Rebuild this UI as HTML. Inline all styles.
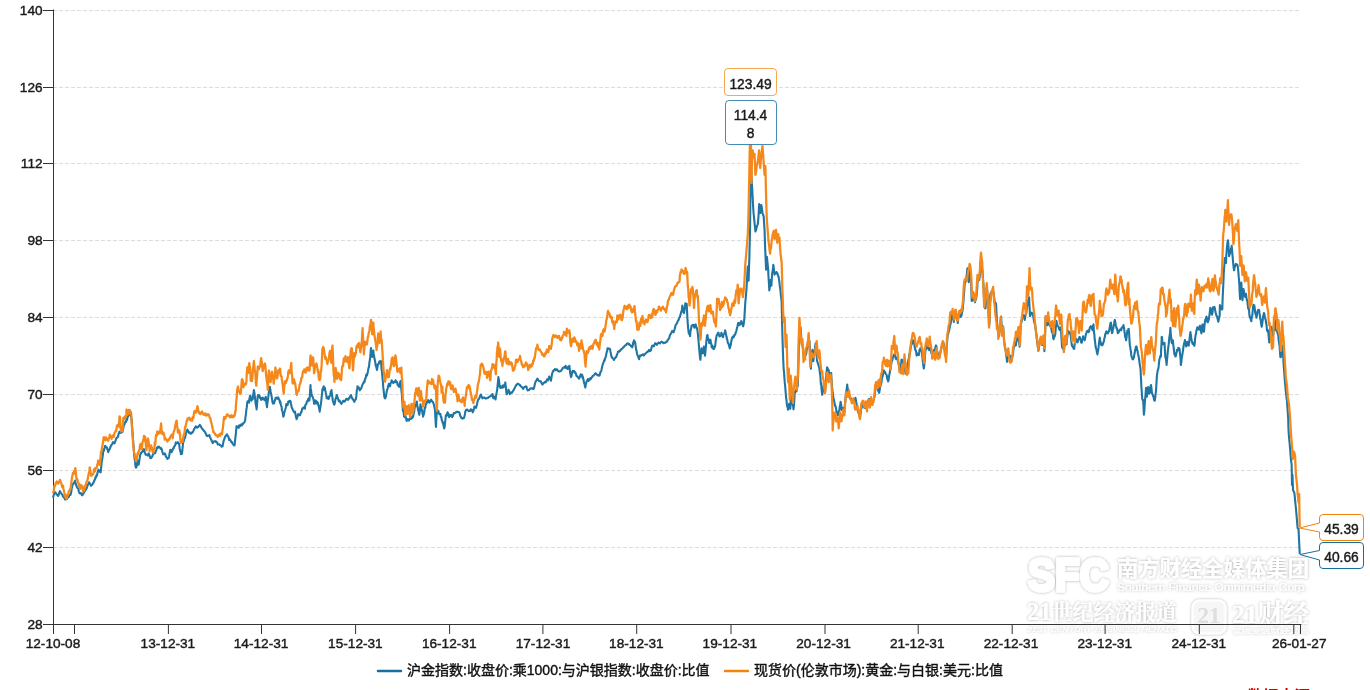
<!DOCTYPE html>
<html lang="zh"><head><meta charset="utf-8"><title>chart</title><style>html,body{margin:0;padding:0;background:#fff;overflow:hidden}</style></head><body>
<svg width="1370" height="690" viewBox="0 0 1370 690" style="display:block;font-family:'Liberation Sans', 'Noto Sans CJK SC', sans-serif">
<defs><filter id="glow" x="-10%" y="-30%" width="120%" height="160%"><feGaussianBlur in="SourceAlpha" stdDeviation="1.6" result="bl"/><feFlood flood-color="#000" flood-opacity="0.33"/><feComposite in2="bl" operator="in" result="sh"/><feMerge><feMergeNode in="sh"/><feMergeNode in="SourceGraphic"/></feMerge></filter></defs>
<rect width="1370" height="690" fill="#fff"/>
<line x1="53.0" x2="1300.0" y1="10.50" y2="10.50" stroke="#dcdcdc" stroke-width="1" stroke-dasharray="4 2"/>
<line x1="53.0" x2="1300.0" y1="87.50" y2="87.50" stroke="#dcdcdc" stroke-width="1" stroke-dasharray="4 2"/>
<line x1="53.0" x2="1300.0" y1="163.50" y2="163.50" stroke="#dcdcdc" stroke-width="1" stroke-dasharray="4 2"/>
<line x1="53.0" x2="1300.0" y1="240.50" y2="240.50" stroke="#dcdcdc" stroke-width="1" stroke-dasharray="4 2"/>
<line x1="53.0" x2="1300.0" y1="317.50" y2="317.50" stroke="#dcdcdc" stroke-width="1" stroke-dasharray="4 2"/>
<line x1="53.0" x2="1300.0" y1="394.50" y2="394.50" stroke="#dcdcdc" stroke-width="1" stroke-dasharray="4 2"/>
<line x1="53.0" x2="1300.0" y1="470.50" y2="470.50" stroke="#dcdcdc" stroke-width="1" stroke-dasharray="4 2"/>
<line x1="53.0" x2="1300.0" y1="547.50" y2="547.50" stroke="#dcdcdc" stroke-width="1" stroke-dasharray="4 2"/>
<g filter="url(#glow)" fill="#fff">
<text x="1028" y="591" font-size="46" font-weight="bold" textLength="81" lengthAdjust="spacingAndGlyphs" stroke="#fff" stroke-width="3.5" stroke-linejoin="round">SFC</text>
<text x="1117" y="576" font-size="21.3" font-weight="bold" textLength="192" lengthAdjust="spacingAndGlyphs">南方财经全媒体集团</text>
<text x="1117" y="591" font-size="11.5" textLength="191" lengthAdjust="spacingAndGlyphs">Southern Finance Omnimedia Corp.</text>
<text x="1027" y="620" font-size="22" font-weight="bold" font-family="'Liberation Serif', 'Noto Serif CJK SC', serif" textLength="150" lengthAdjust="spacingAndGlyphs"><tspan font-size="26">21</tspan>世纪经济报道</text>
<text x="1027" y="632" font-size="7.5" font-style="italic" textLength="150" lengthAdjust="spacingAndGlyphs">21ST CENTURY BUSINESS HERALD</text>
<rect x="1192.5" y="600.5" width="33" height="33" rx="7" ry="7" fill="#f6f6f6" stroke="#fff" stroke-width="2"/>
<text x="1209" y="623" font-size="23" font-weight="bold" text-anchor="middle" fill="#dedede" font-family="'Liberation Serif', serif">21</text>
<text x="1232" y="623" font-size="26" font-weight="bold" font-family="'Liberation Serif', 'Noto Serif CJK SC', serif" textLength="77" lengthAdjust="spacingAndGlyphs">21财经</text>
<text x="1232" y="633" font-size="6" textLength="77" lengthAdjust="spacingAndGlyphs">掌握金融财经动态</text>
</g>
<g stroke="#333" stroke-width="1" fill="none">
<line x1="53.5" x2="53.5" y1="9.5" y2="625.0"/>
<line x1="53.0" x2="1301.3" y1="624.5" y2="624.5"/>
<line x1="43.0" x2="53.5" y1="10.50" y2="10.50"/>
<line x1="43.0" x2="53.5" y1="87.50" y2="87.50"/>
<line x1="43.0" x2="53.5" y1="163.50" y2="163.50"/>
<line x1="43.0" x2="53.5" y1="240.50" y2="240.50"/>
<line x1="43.0" x2="53.5" y1="317.50" y2="317.50"/>
<line x1="43.0" x2="53.5" y1="394.50" y2="394.50"/>
<line x1="43.0" x2="53.5" y1="470.50" y2="470.50"/>
<line x1="43.0" x2="53.5" y1="547.50" y2="547.50"/>
<line x1="43.0" x2="53.5" y1="624.50" y2="624.50"/>
<line x1="53.5" x2="53.5" y1="624.5" y2="634.0"/>
<line x1="74.5" x2="74.5" y1="624.5" y2="634.0"/>
<line x1="168.4" x2="168.4" y1="624.5" y2="634.0"/>
<line x1="261.5" x2="261.5" y1="624.5" y2="634.0"/>
<line x1="355.6" x2="355.6" y1="624.5" y2="634.0"/>
<line x1="449.6" x2="449.6" y1="624.5" y2="634.0"/>
<line x1="542.9" x2="542.9" y1="624.5" y2="634.0"/>
<line x1="636.7" x2="636.7" y1="624.5" y2="634.0"/>
<line x1="731" x2="731" y1="624.5" y2="634.0"/>
<line x1="825" x2="825" y1="624.5" y2="634.0"/>
<line x1="918.2" x2="918.2" y1="624.5" y2="634.0"/>
<line x1="1012.2" x2="1012.2" y1="624.5" y2="634.0"/>
<line x1="1105.1" x2="1105.1" y1="624.5" y2="634.0"/>
<line x1="1199.3" x2="1199.3" y1="624.5" y2="634.0"/>
<line x1="1293.8" x2="1293.8" y1="624.5" y2="634.0"/>
<line x1="1300.5" x2="1300.5" y1="624.5" y2="634.0"/>
</g>
<g font-size="13.65" fill="#1a1a1a" stroke="#1a1a1a" stroke-width="0.42" style="opacity:0.999">
<text x="42.6" y="14.70" text-anchor="end">140</text>
<text x="42.6" y="91.70" text-anchor="end">126</text>
<text x="42.6" y="167.70" text-anchor="end">112</text>
<text x="42.6" y="244.70" text-anchor="end">98</text>
<text x="42.6" y="321.70" text-anchor="end">84</text>
<text x="42.6" y="398.70" text-anchor="end">70</text>
<text x="42.6" y="474.70" text-anchor="end">56</text>
<text x="42.6" y="551.70" text-anchor="end">42</text>
<text x="42.6" y="628.70" text-anchor="end">28</text>
<text x="53.0" y="647.7" text-anchor="middle">12-10-08</text>
<text x="167.9" y="647.7" text-anchor="middle">13-12-31</text>
<text x="261.1" y="647.7" text-anchor="middle">14-12-31</text>
<text x="355.4" y="647.7" text-anchor="middle">15-12-31</text>
<text x="449.2" y="647.7" text-anchor="middle">16-12-31</text>
<text x="543.0" y="647.7" text-anchor="middle">17-12-31</text>
<text x="636.4" y="647.7" text-anchor="middle">18-12-31</text>
<text x="729.9" y="647.7" text-anchor="middle">19-12-31</text>
<text x="823.6" y="647.7" text-anchor="middle">20-12-31</text>
<text x="917.2" y="647.7" text-anchor="middle">21-12-31</text>
<text x="1011.0" y="647.7" text-anchor="middle">22-12-31</text>
<text x="1104.7" y="647.7" text-anchor="middle">23-12-31</text>
<text x="1198.8" y="647.7" text-anchor="middle">24-12-31</text>
<text x="1299.2" y="647.7" text-anchor="middle">26-01-27</text>
</g>
<path d="M53.2,496.9 53.6,495.5 54.0,494.4 54.4,492.5 54.9,493.1 55.1,492.7 55.3,492.3 55.7,493.2 56.1,493.7 56.5,494.0 56.7,494.7 57.0,494.6 57.4,494.9 57.8,495.2 58.2,496.0 58.6,494.9 59.1,493.8 59.5,492.2 59.9,491.2 60.3,491.6 60.7,492.7 61.2,493.3 61.5,493.7 62.0,494.5 62.4,494.7 62.8,495.8 63.1,496.7 63.3,495.9 63.7,496.3 64.1,497.0 64.5,498.4 64.9,499.0 65.1,499.5 65.4,499.5 65.8,499.3 66.2,499.3 66.6,499.1 67.0,499.0 67.5,497.9 67.9,497.4 68.3,497.1 68.7,497.1 69.1,495.9 69.6,495.1 70.0,494.8 70.4,495.0 70.7,494.4 71.2,492.0 71.7,488.5 72.1,487.1 72.3,486.2 72.5,484.7 72.9,484.3 73.3,484.1 73.8,482.9 73.9,482.9 74.2,483.2 74.6,481.9 75.0,480.9 75.2,480.5 75.4,482.2 75.9,483.8 76.3,485.5 76.7,486.4 77.1,487.5 77.5,487.8 77.9,488.2 78.4,489.0 78.8,491.3 79.2,492.3 79.5,493.3 79.6,493.0 80.1,492.8 80.5,493.4 80.9,493.5 81.1,493.3 81.3,493.7 81.7,494.8 82.2,495.1 82.4,495.3 82.6,494.7 83.0,493.9 83.4,493.6 83.8,492.7 84.3,491.8 84.7,491.2 85.1,490.3 85.5,489.9 85.9,489.5 86.4,488.3 86.7,488.4 86.8,487.6 87.2,486.7 87.6,485.5 88.0,484.6 88.5,483.8 88.9,482.7 89.0,482.2 89.3,482.6 89.7,483.3 90.1,483.8 90.6,484.8 91.0,485.7 91.4,485.4 91.8,484.9 92.2,484.9 92.7,483.9 93.0,483.1 93.5,482.9 93.9,481.2 94.3,480.8 94.8,479.5 95.2,479.0 95.4,477.4 95.6,478.2 96.0,477.0 96.4,475.2 96.9,475.7 97.0,475.2 97.3,473.8 97.7,471.9 98.1,471.0 98.5,469.7 99.0,470.7 99.4,471.6 99.8,471.2 100.2,471.6 100.6,472.3 101.1,467.9 101.5,464.1 101.8,461.5 102.3,458.5 102.7,456.2 103.2,451.7 103.4,450.8 103.6,449.8 104.0,450.5 104.4,448.3 104.8,447.3 105.0,446.0 105.3,445.9 105.7,446.9 106.1,446.9 106.5,447.5 106.9,447.6 107.4,449.5 107.8,450.0 108.2,452.1 108.6,450.7 109.0,450.4 109.5,449.0 109.8,449.0 109.9,448.4 110.3,447.3 110.7,446.5 111.1,445.4 111.4,445.0 111.6,444.9 112.0,444.3 112.4,443.4 112.8,442.3 112.9,442.2 113.2,442.6 113.7,442.4 114.1,443.2 114.5,443.4 114.9,442.1 115.3,441.2 115.8,440.0 116.1,438.7 116.6,437.9 117.0,437.7 117.4,437.4 117.7,436.7 117.9,436.9 118.3,435.6 118.7,433.5 119.1,432.7 119.3,431.8 119.5,432.6 120.0,432.9 120.4,432.5 120.8,432.6 121.2,432.7 121.6,432.2 122.1,432.3 122.5,431.8 122.9,429.8 123.3,428.3 123.7,425.9 124.1,425.0 124.6,424.2 125.0,422.8 125.4,421.4 125.7,421.3 125.8,422.1 126.3,420.7 126.7,418.7 127.1,419.9 127.3,417.5 127.5,418.0 127.9,416.4 128.4,416.1 128.8,413.7 129.2,414.8 129.6,414.4 130.0,412.6 130.5,412.0 130.9,415.0 131.3,418.4 131.6,419.0 131.7,420.8 132.1,426.8 132.6,433.8 132.9,438.3 133.4,444.8 133.8,449.1 134.1,454.5 134.7,459.6 135.1,461.1 135.3,464.9 135.5,466.1 135.9,467.7 136.1,467.3 136.3,467.4 136.8,465.5 137.2,462.2 137.3,460.2 137.6,462.4 138.0,461.9 138.4,461.9 138.6,464.7 138.9,463.7 139.3,460.8 139.6,458.4 139.7,458.3 140.1,455.0 140.5,454.6 140.8,453.4 141.0,453.0 141.4,452.2 141.8,452.3 142.2,451.7 142.4,451.4 142.6,451.5 143.1,450.5 143.5,449.8 143.9,449.1 144.3,450.4 144.7,452.2 145.2,453.2 145.6,454.7 146.0,454.3 146.4,454.6 146.8,454.8 147.2,454.7 147.7,455.5 148.1,455.0 148.5,453.8 148.8,453.3 148.9,454.1 149.4,454.8 149.8,456.7 150.2,457.5 150.4,458.3 150.6,458.0 151.0,457.9 151.5,457.4 151.9,457.1 152.3,456.3 152.7,455.2 153.1,454.1 153.6,453.0 154.0,453.5 154.4,453.4 154.8,452.9 155.2,453.2 155.7,451.3 156.1,450.7 156.5,449.3 156.8,447.8 156.9,448.2 157.3,448.3 157.8,446.9 158.2,447.1 158.6,447.3 159.0,446.6 159.2,446.8 159.4,447.0 159.9,447.7 160.3,447.9 160.7,449.0 161.1,448.1 161.5,448.6 162.0,450.2 162.4,452.0 162.8,453.3 163.1,454.3 163.6,454.0 164.1,454.2 164.5,454.2 164.7,453.4 164.9,453.7 165.3,453.9 165.7,456.0 166.2,457.2 166.6,457.2 167.0,458.1 167.1,458.0 167.4,459.0 167.8,458.6 168.3,458.0 168.7,457.9 169.1,456.2 169.5,454.0 169.9,451.7 170.3,449.9 170.8,450.0 171.2,451.0 171.6,452.2 171.9,450.9 172.0,451.0 172.5,450.4 172.9,449.0 173.3,448.5 173.5,447.7 173.7,448.2 174.1,446.8 174.6,446.0 175.0,445.6 175.4,444.2 175.8,442.4 176.2,442.6 176.7,443.4 177.1,442.9 177.5,442.7 177.9,442.1 178.3,442.9 178.8,443.8 179.1,443.5 179.6,448.2 180.0,449.7 180.4,451.4 180.7,452.3 180.9,454.2 181.3,453.5 181.7,453.9 182.0,453.5 182.1,452.7 182.5,448.7 183.0,443.5 183.4,441.8 183.8,441.2 184.2,438.4 184.6,438.7 185.1,437.5 185.5,435.8 185.9,433.5 186.3,432.4 186.7,430.6 187.2,430.2 187.4,429.6 187.6,430.1 188.0,430.6 188.4,431.5 188.8,432.6 189.3,432.4 189.4,433.2 189.7,432.6 190.1,432.5 190.5,433.3 190.9,433.8 191.4,433.6 191.8,432.6 192.2,432.5 192.6,432.3 193.0,431.7 193.5,430.6 193.9,429.8 194.2,428.9 194.7,428.2 195.1,427.5 195.6,427.2 195.8,426.4 196.0,426.5 196.4,427.0 196.8,427.6 197.2,427.6 197.4,427.5 197.7,427.1 198.1,427.0 198.5,426.5 198.9,426.3 199.3,425.7 199.8,424.9 200.2,425.5 200.6,426.0 201.0,426.6 201.4,427.6 201.9,428.3 202.3,428.4 202.7,429.5 203.1,429.9 203.5,430.1 203.8,430.7 204.0,430.9 204.4,431.4 204.8,431.7 205.2,432.7 205.4,433.1 205.6,433.1 206.1,434.4 206.5,435.4 206.9,436.0 207.3,436.1 207.7,435.9 208.2,435.6 208.6,435.5 209.0,435.8 209.4,435.1 209.8,436.6 210.3,437.7 210.7,438.6 211.0,439.2 211.1,439.3 211.5,440.2 211.9,441.3 212.4,442.3 212.5,442.4 212.8,443.1 213.2,442.2 213.6,441.9 214.0,441.5 214.5,441.2 214.9,441.3 215.3,441.1 215.7,441.6 216.1,441.9 216.5,441.6 217.0,442.7 217.4,443.0 217.8,444.6 218.1,444.3 218.7,444.2 219.1,444.2 219.5,444.5 219.9,445.1 220.3,445.3 220.5,445.3 220.8,445.5 221.2,445.9 221.6,446.7 222.0,445.9 222.4,446.2 222.6,446.2 222.9,444.5 223.3,442.5 223.7,440.5 224.1,439.9 224.5,438.5 225.0,437.0 225.3,436.4 225.8,435.9 226.2,435.2 226.6,435.0 226.9,434.3 227.1,435.0 227.5,435.7 227.9,436.0 228.3,436.3 228.5,437.5 228.7,437.7 229.2,439.9 229.6,438.9 230.0,439.9 230.4,440.1 230.8,441.0 231.3,442.2 231.7,441.8 232.1,442.6 232.5,443.5 232.9,443.9 233.4,444.5 233.8,445.2 234.2,445.5 234.5,445.3 235.0,440.8 235.5,436.8 235.7,435.5 235.9,433.0 236.3,428.8 236.5,426.5 236.7,426.0 237.1,427.6 237.6,427.3 238.0,427.5 238.4,427.6 238.8,427.8 239.2,425.3 239.7,425.3 240.1,426.1 240.4,425.6 240.9,424.7 241.3,424.4 241.8,425.5 242.2,424.0 242.6,424.1 242.8,424.2 243.0,423.2 243.4,423.4 243.9,422.8 244.3,422.3 244.7,421.7 245.1,420.5 245.5,417.0 246.0,413.7 246.4,409.2 246.8,407.2 247.2,402.7 247.6,401.4 248.1,401.1 248.5,400.6 248.9,402.2 249.1,402.7 249.3,399.5 249.7,397.5 249.9,396.1 250.2,395.5 250.6,397.0 251.0,398.6 251.4,400.6 251.8,400.0 252.3,397.9 252.6,399.3 253.1,395.4 253.5,392.8 253.9,390.1 254.4,392.7 254.8,396.3 255.2,399.9 255.6,403.2 256.0,405.5 256.5,408.0 256.6,409.5 256.9,406.1 257.3,401.6 257.7,396.0 257.9,395.7 258.1,395.1 258.6,395.1 259.0,395.4 259.4,395.5 259.8,397.9 260.2,398.1 260.7,397.7 261.1,399.9 261.5,399.2 261.9,399.4 262.3,398.3 262.7,397.7 263.2,398.7 263.6,399.2 264.0,398.9 264.3,399.9 264.4,400.2 264.9,400.3 265.3,398.3 265.7,396.9 265.9,397.2 266.1,399.7 266.5,404.2 267.0,407.2 267.4,403.1 267.8,400.7 268.2,397.7 268.6,393.8 269.1,391.6 269.5,387.9 269.8,386.7 270.3,389.2 270.7,392.0 271.1,394.0 271.6,396.6 272.0,398.8 272.4,401.4 272.8,403.4 273.0,403.6 273.3,402.4 273.7,403.4 274.1,403.2 274.5,400.9 274.9,400.7 275.4,398.5 275.8,397.7 276.2,397.8 276.5,398.4 277.0,397.5 277.5,397.5 277.9,398.9 278.3,397.5 278.6,398.5 278.7,399.1 279.1,399.5 279.6,400.4 280.0,402.7 280.2,401.4 280.4,402.2 280.8,404.3 281.2,405.9 281.7,407.3 281.8,409.6 282.1,410.6 282.5,411.4 282.9,413.8 283.3,416.7 283.8,415.5 284.2,412.8 284.6,411.6 285.0,410.5 285.4,408.8 285.9,407.2 286.3,404.1 286.6,404.9 286.7,404.3 287.1,404.7 287.5,405.2 288.0,403.0 288.2,401.6 288.4,402.6 288.8,402.0 289.2,401.4 289.6,400.8 290.1,401.6 290.2,400.8 290.5,401.3 290.9,403.4 291.3,405.1 291.7,407.6 292.2,408.5 292.6,408.9 293.0,410.5 293.4,410.9 293.8,411.7 294.3,412.4 294.7,411.8 295.0,411.6 295.5,414.3 295.9,416.7 296.4,418.2 296.6,419.2 296.8,418.6 297.2,417.5 297.6,416.5 298.0,414.6 298.2,414.1 298.5,414.5 298.9,414.3 299.3,414.8 299.7,415.3 300.1,415.2 300.6,413.5 301.0,412.1 301.4,412.1 301.7,411.0 302.2,409.0 302.7,408.1 303.1,408.3 303.3,408.0 303.5,407.5 303.9,408.2 304.3,407.1 304.8,407.7 304.9,408.6 305.2,405.7 305.6,404.5 306.0,404.5 306.4,403.7 306.9,401.4 307.3,401.0 307.7,401.3 308.1,399.3 308.5,398.7 309.0,400.0 309.4,400.5 309.8,395.8 310.2,389.5 310.5,385.1 310.6,388.8 311.1,390.4 311.5,393.9 311.9,395.7 312.3,396.6 312.7,396.9 312.9,397.4 313.2,398.6 313.6,399.7 314.0,402.8 314.1,403.8 314.4,403.0 314.8,402.1 315.3,400.4 315.7,402.4 316.1,403.6 316.5,401.4 316.9,402.8 317.4,403.4 317.8,402.4 318.2,405.1 318.4,405.2 318.6,405.9 319.0,407.3 319.5,410.2 319.7,411.6 319.9,409.9 320.3,407.8 320.7,404.9 321.1,402.6 321.6,397.7 322.0,394.0 322.4,389.3 322.8,388.6 323.2,387.9 323.7,386.2 324.1,387.8 324.5,390.3 324.9,387.9 325.1,389.3 325.3,390.4 325.8,392.7 326.2,394.3 326.6,397.5 326.7,398.3 327.0,398.0 327.4,398.5 327.9,398.5 328.3,397.2 328.7,398.9 329.1,397.6 329.5,396.0 329.9,396.1 330.4,394.2 330.8,391.5 331.2,392.4 331.5,390.1 331.6,391.6 332.1,394.8 332.5,398.5 332.8,400.5 333.3,402.3 333.7,403.5 333.9,404.3 334.2,404.7 334.6,404.1 335.0,401.8 335.4,399.1 335.8,398.8 336.3,396.7 336.7,395.1 337.1,395.8 337.5,397.5 337.9,398.5 338.4,400.0 338.8,401.1 339.2,401.5 339.6,400.5 340.0,401.3 340.5,402.6 340.9,402.9 341.3,404.0 341.6,403.4 341.7,402.9 342.1,402.7 342.6,402.1 343.0,401.1 343.1,400.9 343.4,400.7 343.8,400.9 344.2,401.6 344.7,401.3 345.1,401.1 345.5,400.3 345.9,399.5 346.3,398.8 346.8,399.1 347.2,398.8 347.6,399.3 347.9,399.8 348.4,399.5 348.9,398.4 349.3,397.7 349.5,397.5 349.7,397.9 350.1,396.6 350.5,395.8 351.0,396.3 351.1,395.1 351.4,396.6 351.8,397.6 352.2,397.7 352.6,399.3 353.1,399.5 353.5,400.4 353.9,400.9 354.3,401.9 354.7,400.6 355.2,400.0 355.6,399.2 355.9,399.1 356.4,395.7 356.8,390.5 357.3,388.4 357.5,386.2 357.7,386.6 358.1,387.1 358.5,387.8 358.8,387.6 358.9,387.6 359.4,389.2 359.8,390.3 360.2,389.7 360.6,389.1 361.0,388.7 361.5,387.5 361.9,386.6 362.3,384.9 362.7,384.5 363.1,383.2 363.6,383.0 364.0,381.5 364.4,381.2 364.7,381.6 364.8,379.8 365.2,379.1 365.7,377.7 366.1,375.5 366.3,374.6 366.5,375.2 366.9,375.6 367.3,374.3 367.8,371.9 368.2,369.6 368.6,367.7 369.0,366.8 369.4,362.7 369.9,359.3 370.2,357.2 370.7,351.6 371.0,348.1 371.5,352.1 372.0,354.1 372.2,357.0 372.4,356.4 372.8,355.0 373.2,351.5 373.4,350.5 373.6,353.4 374.1,355.9 374.5,359.2 374.7,359.0 374.9,360.6 375.3,362.5 375.7,365.5 376.2,366.5 376.6,368.3 376.9,369.9 377.4,367.9 377.8,364.2 378.2,364.6 378.7,364.0 379.1,362.1 379.5,361.3 379.8,361.6 379.9,362.3 380.4,361.9 380.8,361.0 381.1,362.5 381.2,364.0 381.6,369.7 382.0,371.1 382.2,374.7 382.5,378.2 382.9,382.0 383.3,387.9 383.7,390.8 384.1,395.2 384.6,397.9 385.0,398.4 385.4,397.7 385.8,397.0 386.2,394.8 386.7,391.5 387.0,390.0 387.5,389.2 387.9,386.9 388.3,385.6 388.6,385.1 388.8,383.8 389.2,385.4 389.6,386.0 390.0,386.3 390.2,385.6 390.4,383.5 390.9,382.8 391.3,381.6 391.7,380.3 392.1,380.8 392.5,381.8 393.0,382.1 393.3,383.1 393.8,382.1 394.2,381.9 394.6,381.7 394.9,382.2 395.1,381.5 395.5,380.3 395.9,382.2 396.3,381.3 396.5,381.5 396.7,381.9 397.2,382.2 397.6,384.7 398.0,385.4 398.1,384.5 398.4,385.3 398.8,385.6 399.2,386.9 399.7,384.6 400.1,382.6 400.5,381.0 400.9,385.5 401.4,390.4 401.8,393.7 402.2,399.5 402.6,405.5 402.9,410.8 403.0,410.9 403.5,410.6 403.9,414.8 404.0,416.4 404.3,416.6 404.7,417.2 405.1,416.3 405.3,413.5 405.6,416.0 406.0,417.9 406.4,419.6 406.6,420.9 406.8,419.5 407.2,420.5 407.7,419.2 408.1,419.8 408.5,420.2 408.9,420.7 409.3,419.3 409.8,418.5 410.2,418.9 410.6,418.4 410.9,418.9 411.0,418.1 411.4,417.3 411.9,418.3 412.3,417.5 412.7,417.6 412.9,416.0 413.1,416.9 413.5,414.1 414.0,412.9 414.4,409.7 414.8,406.8 415.2,405.7 415.6,404.7 416.1,404.5 416.5,402.4 416.8,401.5 416.9,402.3 417.3,406.9 417.7,406.9 418.0,409.6 418.6,411.6 419.0,413.8 419.3,414.8 419.8,411.5 420.3,406.3 420.4,404.3 420.7,405.8 421.1,406.3 421.5,408.7 421.7,409.7 421.9,409.7 422.4,412.9 422.8,414.4 423.1,416.6 423.6,414.4 424.0,413.8 424.5,410.5 424.7,408.2 424.9,407.6 425.3,407.8 425.7,404.9 426.1,404.0 426.3,403.7 426.6,402.1 427.0,402.1 427.4,402.4 427.8,401.3 428.2,400.1 428.7,401.0 429.1,401.5 429.5,402.7 429.9,402.0 430.3,400.9 430.8,400.4 431.2,399.6 431.6,400.6 432.0,401.3 432.4,401.7 432.9,401.7 433.1,402.9 433.3,402.9 433.7,404.0 434.1,405.6 434.5,407.6 434.7,408.4 435.0,411.0 435.4,418.0 435.8,424.9 436.0,426.9 436.2,421.8 436.6,415.1 437.1,411.4 437.5,412.0 437.9,411.7 438.3,410.8 438.7,413.1 439.2,414.1 439.6,413.6 440.0,413.8 440.4,413.8 440.8,416.9 441.3,416.8 441.6,419.0 441.7,419.8 442.1,420.4 442.5,422.5 442.9,422.3 443.1,423.2 443.4,424.8 443.8,426.8 444.2,428.5 444.6,426.9 445.0,423.1 445.5,418.8 445.9,415.4 446.3,414.8 446.7,415.7 447.1,413.6 447.5,412.2 448.0,413.1 448.4,414.1 448.8,414.8 449.0,417.0 449.2,417.1 449.7,415.9 450.1,415.3 450.5,415.7 450.9,415.4 451.1,414.8 451.3,415.9 451.8,416.6 452.2,417.1 452.6,416.5 453.0,415.1 453.4,414.5 453.8,413.0 454.3,413.1 454.7,413.1 455.1,412.8 455.5,412.7 456.0,412.2 456.2,411.9 456.4,412.2 456.8,411.9 457.2,412.0 457.6,411.8 457.8,411.8 458.1,411.9 458.5,412.1 458.9,412.2 459.3,412.2 459.7,413.5 460.2,416.1 460.6,416.3 461.0,417.1 461.4,418.0 461.8,418.1 462.3,418.7 462.7,418.6 463.1,417.9 463.5,418.3 463.9,418.1 464.4,416.5 464.8,414.9 465.2,412.0 465.5,411.0 465.6,410.6 466.0,409.9 466.5,410.1 466.9,409.5 467.3,409.6 467.7,410.2 468.1,410.6 468.6,411.1 469.0,410.6 469.4,410.8 469.8,411.0 470.2,410.9 470.7,409.4 471.1,409.7 471.5,410.4 471.8,409.7 472.3,411.1 472.8,412.3 472.9,411.8 473.2,411.3 473.6,410.2 474.0,408.7 474.4,406.6 474.9,407.0 475.3,407.0 475.7,407.7 476.1,407.9 476.5,405.8 477.0,404.3 477.4,402.4 477.7,400.9 478.2,399.6 478.6,399.2 479.1,398.8 479.3,398.2 479.5,397.7 479.9,396.7 480.3,395.8 480.7,395.4 480.9,394.5 481.2,395.9 481.6,396.3 482.0,397.6 482.4,398.3 482.8,397.9 483.3,397.8 483.7,397.6 484.1,397.4 484.5,397.9 484.9,398.0 485.4,398.3 485.7,398.7 486.2,398.3 486.6,398.3 487.0,398.2 487.3,398.1 487.5,398.0 487.9,397.7 488.3,397.7 488.7,397.0 488.9,397.1 489.1,396.9 489.6,396.8 490.0,396.5 490.4,396.2 490.8,395.5 491.2,395.7 491.7,394.6 492.1,394.7 492.5,394.0 492.9,397.0 493.3,398.3 493.7,397.0 494.2,397.0 494.6,396.5 495.0,397.2 495.4,399.2 495.6,399.4 495.9,396.6 496.3,394.6 496.7,392.1 497.1,390.5 497.5,386.6 498.0,381.5 498.4,377.1 498.8,379.8 499.2,382.0 499.6,386.5 500.1,387.1 500.5,388.0 500.8,386.3 501.3,387.6 501.7,386.8 502.2,387.0 502.4,387.8 502.6,385.9 503.0,385.4 503.4,387.3 503.8,386.1 504.0,385.8 504.3,386.2 504.7,384.3 505.1,383.3 505.3,382.4 505.5,384.0 505.9,388.1 506.4,392.6 506.7,394.3 507.2,393.8 507.6,392.8 508.0,391.0 508.3,390.3 508.5,389.7 508.9,390.5 509.3,392.0 509.7,392.8 509.9,394.1 510.1,392.5 510.6,392.6 511.0,392.5 511.4,392.5 511.8,393.0 512.0,392.1 512.2,392.2 512.7,391.4 513.1,390.7 513.5,390.4 513.9,389.4 514.3,388.7 514.8,387.8 515.2,386.9 515.6,386.2 516.0,385.3 516.4,384.8 516.8,384.5 517.3,384.2 517.7,383.6 518.0,383.8 518.5,384.3 519.0,384.3 519.4,384.6 519.8,385.2 520.0,384.9 520.2,385.3 520.6,385.9 521.1,386.4 521.5,386.8 521.9,387.3 522.3,387.5 522.7,387.9 523.1,389.0 523.6,387.8 524.0,387.4 524.4,387.2 524.7,386.7 525.3,386.8 525.7,386.4 526.0,386.3 526.5,386.8 526.9,388.6 527.4,389.9 527.6,390.0 527.8,390.3 528.2,390.0 528.6,390.0 529.0,390.2 529.5,389.5 529.9,388.8 530.3,388.9 530.7,388.4 531.1,388.3 531.6,388.3 531.9,388.2 532.4,388.8 532.8,388.9 533.2,388.2 533.7,388.8 534.0,388.0 534.5,385.8 534.9,384.1 535.3,382.7 535.6,381.7 535.8,381.2 536.2,380.9 536.6,380.1 537.0,379.7 537.2,378.8 537.4,378.5 537.9,379.3 538.3,380.3 538.7,380.6 539.1,381.0 539.5,381.1 540.0,381.2 540.4,381.5 540.7,381.2 540.8,381.8 541.2,382.3 541.6,383.2 542.1,383.8 542.3,384.6 542.5,384.0 542.9,384.1 543.3,383.2 543.7,383.0 544.2,382.7 544.6,382.2 545.0,382.5 545.4,381.8 545.8,382.2 546.3,381.0 546.7,380.4 547.1,379.4 547.5,380.1 547.8,380.3 548.4,378.9 548.8,377.8 549.2,376.5 549.4,377.6 549.6,377.9 550.0,378.0 550.5,380.0 550.7,380.0 550.9,380.7 551.3,378.7 551.7,375.8 552.1,373.7 552.6,372.4 553.0,371.0 553.4,371.1 553.8,370.2 554.2,369.9 554.7,369.4 555.0,369.1 555.5,369.8 555.9,370.3 556.3,369.6 556.6,369.4 556.8,369.3 557.2,369.6 557.6,370.1 558.0,370.9 558.2,371.1 558.4,371.3 558.9,371.4 559.3,371.5 559.7,371.5 560.1,371.3 560.5,370.8 561.0,370.9 561.4,370.3 561.8,369.5 562.2,369.2 562.6,368.3 563.0,367.9 563.5,367.5 563.9,367.4 564.3,367.0 564.6,367.1 564.7,367.6 565.2,366.8 565.6,365.8 566.0,367.9 566.4,367.9 566.8,368.3 567.0,367.7 567.3,368.6 567.7,369.0 568.1,366.9 568.5,367.5 568.9,366.8 569.4,365.8 569.8,369.5 570.2,373.2 570.6,375.0 571.0,377.1 571.5,376.2 571.9,373.7 572.2,372.0 572.7,370.8 573.1,370.7 573.6,371.1 574.0,371.2 574.1,371.1 574.4,372.6 574.8,372.7 575.2,372.2 575.7,373.2 576.1,374.5 576.5,376.0 576.9,375.8 577.3,376.3 577.8,377.1 578.2,377.5 578.6,378.0 578.9,378.7 579.4,378.0 579.9,376.9 580.3,375.4 580.5,375.1 580.7,374.3 581.1,375.6 581.5,376.0 582.0,375.9 582.1,374.7 582.4,377.7 582.8,376.6 583.2,378.5 583.6,380.3 584.1,383.0 584.5,383.6 584.9,386.0 585.3,387.6 585.7,384.9 586.2,383.2 586.6,381.4 587.0,380.9 587.4,380.4 587.8,379.2 588.3,381.0 588.5,380.5 588.7,379.3 589.1,379.7 589.5,380.2 589.9,379.1 590.4,378.0 590.8,379.0 591.2,378.1 591.6,377.5 592.0,377.2 592.5,376.2 592.9,376.0 593.3,375.7 593.7,375.6 594.1,374.9 594.6,374.3 595.0,373.7 595.4,373.3 595.7,373.3 595.8,373.5 596.2,373.8 596.7,374.6 597.1,374.7 597.5,375.0 597.7,375.4 597.9,375.3 598.3,375.1 598.8,375.0 599.2,375.7 599.3,375.5 599.6,375.4 600.0,373.8 600.4,372.1 600.9,371.7 601.2,371.3 601.7,368.9 602.1,367.0 602.5,365.1 602.8,364.5 603.0,363.8 603.4,362.7 603.8,361.5 604.2,360.2 604.4,361.0 604.6,360.6 605.1,358.3 605.5,357.6 605.9,356.3 606.3,354.2 606.7,352.2 607.2,350.8 607.5,348.3 608.0,348.4 608.4,348.7 608.8,348.7 609.3,348.6 609.7,348.8 609.9,349.0 610.1,349.3 610.5,351.7 610.9,353.6 611.4,356.6 611.5,356.2 611.8,356.8 612.2,357.9 612.6,358.1 613.0,358.6 613.5,359.1 613.9,360.0 614.3,358.9 614.7,358.7 615.1,358.2 615.6,357.2 616.0,357.1 616.3,356.6 616.8,355.2 617.2,354.2 617.7,352.8 617.9,351.7 618.1,351.9 618.5,351.3 618.9,351.2 619.3,351.6 619.5,351.3 619.8,351.2 620.2,350.5 620.6,350.0 621.0,349.5 621.4,349.3 621.9,348.8 622.3,348.5 622.7,348.1 623.1,347.6 623.5,347.2 624.0,346.7 624.3,346.4 624.4,346.2 624.8,345.6 625.2,345.4 625.6,345.3 625.9,345.0 626.1,345.0 626.5,344.5 626.9,343.8 627.3,343.3 627.7,343.3 628.2,343.7 628.6,343.8 629.0,344.4 629.4,344.2 629.8,345.0 630.3,345.0 630.7,345.4 631.1,346.3 631.5,346.0 631.9,346.9 632.2,347.3 632.4,345.7 632.8,345.7 633.2,342.5 633.3,342.2 633.6,342.6 634.0,340.4 634.5,341.6 634.9,341.8 635.3,343.5 635.7,346.4 636.1,349.3 636.6,351.1 637.0,353.6 637.4,354.8 637.8,355.8 638.2,356.9 638.7,358.1 639.1,359.2 639.5,357.0 639.9,355.7 640.3,356.1 640.7,355.9 641.2,355.1 641.6,355.2 642.0,355.1 642.4,354.7 642.6,355.0 642.9,354.3 643.3,354.7 643.7,355.5 644.1,355.5 644.5,354.4 645.0,354.0 645.4,353.7 645.8,353.3 646.2,352.8 646.6,352.7 647.1,351.9 647.4,351.8 647.9,351.8 648.3,350.9 648.7,350.5 649.0,349.9 649.2,350.8 649.6,350.8 650.0,351.1 650.4,350.7 650.6,350.7 650.8,350.6 651.3,348.7 651.7,347.1 652.1,345.9 652.5,346.0 652.9,345.5 653.4,345.8 653.7,346.4 654.2,345.5 654.6,344.8 655.0,343.7 655.3,343.1 655.5,343.4 655.9,343.6 656.3,343.9 656.7,344.4 656.9,344.8 657.1,344.5 657.6,343.7 658.0,343.2 658.4,342.6 658.8,342.6 659.2,342.9 659.7,342.7 660.1,343.3 660.5,342.6 660.9,342.4 661.3,341.9 661.7,341.7 662.2,342.2 662.6,342.1 663.0,342.7 663.4,343.1 663.6,343.2 663.9,343.2 664.3,342.9 664.7,342.8 665.1,342.5 665.5,342.6 665.7,342.6 666.0,342.3 666.4,341.6 666.8,341.7 667.2,341.4 667.6,340.4 668.1,339.6 668.5,338.9 668.9,338.6 669.3,337.7 669.7,336.1 670.2,334.6 670.5,334.4 671.0,333.4 671.4,332.6 671.8,331.9 672.1,331.0 672.3,331.3 672.7,331.5 673.1,331.9 673.5,332.4 673.7,332.1 673.9,330.8 674.4,329.9 674.8,328.4 675.2,326.7 675.6,325.2 676.0,324.5 676.5,324.0 676.9,323.4 677.3,322.3 677.7,321.6 678.1,320.5 678.4,319.9 678.6,320.0 679.0,318.7 679.4,317.7 679.8,317.1 680.0,316.8 680.2,315.4 680.7,314.3 681.1,312.4 681.5,311.1 681.6,312.1 681.9,309.7 682.3,305.5 682.8,307.9 683.2,309.0 683.6,310.8 684.0,313.2 684.4,310.7 684.9,307.7 685.3,303.4 685.7,305.2 686.1,305.0 686.5,304.4 686.7,303.7 687.0,310.6 687.4,317.9 687.5,320.2 687.8,324.0 688.2,328.8 688.5,330.8 688.6,332.5 689.1,333.8 689.5,334.1 689.9,335.5 690.1,336.2 690.3,332.6 690.7,329.8 691.2,328.4 691.5,326.0 692.0,325.2 692.4,325.3 692.8,324.8 693.3,325.0 693.7,326.3 694.1,326.8 694.4,327.7 694.5,326.7 694.9,324.8 695.4,324.8 695.7,324.3 695.8,325.7 696.2,327.5 696.6,327.3 697.0,328.3 697.5,330.9 697.9,334.1 698.3,338.3 698.7,343.0 699.1,348.3 699.5,352.1 700.0,357.5 700.4,359.8 700.8,354.7 701.2,351.6 701.6,348.3 702.1,350.8 702.5,353.3 702.8,353.3 703.3,350.4 703.8,348.6 703.9,346.5 704.2,348.9 704.6,352.4 705.0,355.7 705.4,351.8 705.9,346.7 706.3,341.8 706.7,338.4 707.1,335.4 707.5,335.0 708.0,338.8 708.4,340.3 708.8,340.2 709.2,343.2 709.6,342.6 710.1,339.5 710.3,340.1 710.5,339.8 710.9,342.7 711.3,343.8 711.7,347.5 711.9,345.2 712.2,346.1 712.6,345.8 713.0,348.4 713.4,348.9 713.8,349.2 714.3,348.3 714.7,346.8 715.1,346.5 715.5,342.8 715.9,339.5 716.4,337.0 716.7,335.2 717.2,334.7 717.6,334.0 718.0,332.8 718.3,333.1 718.5,332.8 718.9,334.4 719.3,336.1 719.7,336.5 719.9,336.5 720.1,335.9 720.6,335.8 721.0,334.5 721.4,332.8 721.8,333.9 722.2,334.5 722.7,336.8 723.1,337.1 723.5,334.7 723.9,334.1 724.3,333.4 724.8,332.0 725.1,330.3 725.6,332.4 726.0,334.2 726.4,336.4 726.7,337.3 726.9,339.1 727.3,339.6 727.7,342.3 728.1,343.4 728.3,342.9 728.5,343.9 729.0,345.4 729.4,347.1 729.8,348.3 730.2,346.3 730.6,345.9 731.1,342.6 731.5,340.8 731.9,338.3 732.2,338.0 732.3,337.4 732.7,336.7 733.2,336.5 733.6,337.5 733.7,336.7 734.0,336.4 734.4,334.8 734.8,334.5 735.3,334.6 735.7,332.4 736.1,331.9 736.5,330.3 736.9,328.4 737.4,326.6 737.8,324.8 738.2,322.9 738.6,324.5 739.0,324.5 739.5,325.1 739.8,324.1 740.3,322.6 740.7,323.6 741.1,321.4 741.4,321.0 741.6,322.6 742.0,324.2 742.4,324.2 742.8,325.3 743.2,326.3 743.7,323.8 744.1,320.7 744.3,319.1 744.5,315.8 744.9,309.1 745.3,302.4 745.8,297.3 746.2,292.4 746.5,288.8 747.0,279.8 747.4,272.6 747.8,266.5 748.3,275.2 748.6,280.8 749.1,265.0 749.4,256.9 749.5,250.6 750.0,232.7 750.1,227.0 750.4,193.7 750.7,149.9 751.2,170.0 751.6,178.6 751.9,183.5 752.1,186.6 752.5,194.4 752.9,202.3 753.3,209.6 753.7,214.5 754.1,218.3 754.6,223.1 755.0,227.3 755.4,231.5 755.8,230.7 756.3,228.9 756.7,227.1 757.1,225.9 757.5,224.8 757.9,223.6 758.4,217.6 758.8,210.8 759.2,204.1 759.6,205.7 760.0,209.7 760.4,213.0 760.9,208.8 761.3,205.1 761.7,206.9 762.1,210.2 762.5,213.0 763.0,214.4 763.4,215.6 763.7,216.5 763.8,218.5 764.2,225.0 764.6,230.4 765.0,244.0 765.5,255.9 765.9,265.7 766.1,269.7 766.3,265.7 766.8,259.0 766.9,256.9 767.2,259.7 767.6,263.9 768.0,267.8 768.2,269.7 768.4,275.3 768.9,283.0 769.3,290.4 769.7,287.9 770.1,284.5 770.4,281.2 770.5,280.0 771.0,282.8 771.4,285.6 771.8,279.0 772.2,273.1 772.5,272.1 772.6,271.2 773.1,267.3 773.3,264.9 773.5,265.8 773.9,269.4 774.3,272.6 774.6,274.6 774.7,274.2 775.2,273.4 775.6,273.5 776.0,273.0 776.4,272.0 776.8,272.8 777.3,273.1 777.7,274.4 778.1,276.1 778.5,276.2 778.9,278.7 779.3,281.4 779.8,286.2 780.2,288.5 780.5,291.1 780.6,292.1 781.0,296.4 781.5,300.3 781.6,300.3 781.9,313.7 782.2,327.1 782.7,344.9 783.1,356.5 783.6,368.1 784.0,371.8 784.4,377.8 784.8,382.9 785.1,385.3 785.2,386.4 785.7,392.9 786.1,398.0 786.5,400.3 786.9,404.3 787.3,406.9 787.8,407.1 787.9,409.7 788.2,409.1 788.6,407.4 789.0,405.2 789.2,403.7 789.4,404.4 789.9,406.7 790.3,408.8 790.7,401.9 791.1,395.0 791.3,393.4 791.5,393.6 792.0,398.7 792.4,402.3 792.6,402.4 792.8,405.4 793.2,406.7 793.5,409.3 794.1,403.7 794.5,396.7 794.9,391.7 795.3,392.0 795.7,390.4 796.2,391.5 796.4,391.3 796.6,391.0 797.0,387.3 797.4,386.8 797.8,385.8 798.3,368.2 798.7,353.1 798.8,346.8 799.1,342.3 799.5,333.8 799.8,331.1 799.9,331.6 800.4,329.3 800.7,327.9 801.2,336.6 801.6,341.8 802.0,343.7 802.5,346.2 802.9,347.9 803.3,352.0 803.7,355.5 804.1,359.6 804.3,359.4 804.6,358.8 805.0,355.9 805.4,355.3 805.8,354.9 806.2,353.8 806.7,349.6 807.1,348.1 807.3,348.3 807.5,346.6 807.9,346.2 808.3,345.3 808.6,343.7 808.8,343.0 809.2,341.4 809.5,341.2 810.0,351.5 810.4,359.0 810.9,368.8 811.3,361.5 811.7,356.9 812.1,353.6 812.4,349.8 812.5,352.6 813.0,357.8 813.3,361.2 813.8,356.9 814.2,354.5 814.6,351.1 815.1,347.3 815.5,343.5 815.9,345.9 816.3,350.5 816.7,356.3 817.1,361.0 817.6,362.1 818.0,364.0 818.4,364.7 818.6,365.5 818.8,366.5 819.3,368.0 819.7,371.5 819.9,372.8 820.1,373.7 820.5,378.0 820.9,384.8 821.2,383.3 821.4,387.1 821.8,391.3 822.2,394.8 822.6,391.7 823.0,388.8 823.5,388.4 823.7,385.5 823.9,386.3 824.3,389.6 824.7,391.9 825.0,392.9 825.1,390.8 825.6,385.1 826.0,381.9 826.1,379.1 826.4,373.6 826.8,370.2 827.1,367.3 827.2,367.6 827.7,368.2 828.1,370.8 828.5,370.7 828.8,370.2 828.9,372.0 829.3,373.3 829.8,373.7 830.2,374.9 830.6,374.2 831.0,373.1 831.2,372.9 831.4,377.9 831.9,384.5 832.1,389.0 832.3,388.8 832.7,393.0 833.1,395.6 833.5,398.4 834.0,400.3 834.4,402.4 834.8,405.1 835.0,404.4 835.2,406.4 835.6,406.5 836.1,408.8 836.3,410.6 836.5,412.3 836.9,411.7 837.3,413.3 837.7,415.4 838.2,414.5 838.6,412.7 839.0,411.0 839.3,410.4 839.4,410.3 839.8,406.0 840.3,404.6 840.6,401.7 841.1,404.0 841.5,408.7 841.9,410.2 842.4,410.1 842.8,409.3 843.2,407.8 843.6,409.2 844.0,411.8 844.4,412.1 844.9,405.1 845.3,400.5 845.7,395.9 845.9,393.2 846.1,391.7 846.6,389.9 847.0,386.4 847.2,384.5 847.4,387.0 847.8,388.4 848.2,392.0 848.7,394.0 849.1,396.0 849.5,395.6 849.9,397.8 850.3,398.5 850.6,398.3 850.8,398.1 851.2,399.4 851.6,399.8 852.0,400.2 852.4,402.8 852.9,402.5 853.3,402.3 853.7,400.5 854.1,399.3 854.4,399.1 854.5,400.3 855.0,400.3 855.4,397.7 855.7,398.9 856.2,402.2 856.6,404.3 857.0,407.6 857.5,410.2 857.9,411.3 858.3,412.7 858.5,412.9 858.7,413.0 859.2,415.0 859.6,415.6 860.0,418.4 860.4,414.5 860.8,412.7 861.3,407.5 861.7,408.0 862.1,406.0 862.5,404.7 862.9,404.8 863.2,404.9 863.4,404.6 863.8,405.0 864.2,407.6 864.6,407.8 865.0,407.0 865.5,407.2 865.9,408.2 866.3,407.2 866.7,406.9 867.0,407.4 867.1,405.4 867.6,403.9 868.0,401.7 868.4,400.3 868.8,399.0 869.2,399.0 869.7,400.8 870.1,402.3 870.5,404.1 870.8,403.9 870.9,402.9 871.3,403.6 871.8,402.3 872.2,402.6 872.6,402.8 873.0,400.9 873.4,400.4 873.9,399.0 874.3,396.5 874.5,396.8 874.7,394.7 875.1,392.0 875.5,387.4 875.8,385.0 876.0,385.4 876.4,386.8 876.8,386.5 877.2,386.7 877.6,388.4 878.1,390.8 878.5,390.9 878.9,392.1 879.2,392.8 879.7,389.7 880.2,386.8 880.6,385.7 880.7,385.1 881.0,383.5 881.4,382.8 881.8,379.1 882.1,377.9 882.3,376.8 882.7,376.0 883.1,373.6 883.5,373.2 883.9,370.4 884.4,371.4 884.8,372.3 885.2,372.1 885.6,373.6 886.0,374.3 886.5,374.7 886.8,375.4 886.9,376.5 887.3,379.1 887.7,379.5 888.1,381.4 888.3,381.1 888.6,379.9 889.0,376.6 889.4,374.3 889.6,373.9 889.8,372.1 890.2,369.9 890.7,368.5 890.9,366.6 891.1,365.0 891.5,362.4 891.9,360.7 892.3,360.1 892.8,358.0 893.2,356.4 893.6,355.7 893.9,355.0 894.4,354.7 894.9,353.2 895.3,355.9 895.7,358.6 896.1,359.0 896.5,358.3 897.0,358.0 897.1,357.5 897.4,358.0 897.8,361.1 898.2,361.8 898.6,363.5 899.1,366.0 899.5,368.4 899.9,371.5 900.3,368.5 900.7,365.3 901.2,363.9 901.5,359.9 901.6,359.6 902.0,360.0 902.4,360.4 902.8,360.4 903.3,363.0 903.7,365.5 904.1,368.1 904.5,370.6 904.9,371.0 905.4,371.1 905.6,373.7 905.8,372.1 906.2,370.7 906.6,369.9 907.0,367.1 907.5,366.1 907.9,361.6 908.3,360.3 908.7,358.7 909.0,357.8 909.1,355.8 909.6,354.1 910.0,352.2 910.4,350.0 910.8,346.8 911.2,344.7 911.7,344.5 912.1,343.1 912.5,341.2 912.7,340.5 912.9,341.2 913.3,340.4 913.8,341.9 914.1,343.1 914.6,346.0 915.0,348.1 915.4,350.2 915.9,350.6 916.3,352.7 916.5,355.0 916.7,355.6 917.1,354.7 917.5,353.6 918.0,353.5 918.4,354.2 918.8,355.1 919.2,352.7 919.6,349.8 920.1,348.9 920.3,348.2 920.5,350.3 920.9,350.4 921.3,350.8 921.6,351.4 921.7,351.7 922.2,355.2 922.6,359.3 922.9,362.0 923.4,365.8 923.8,368.5 924.3,364.6 924.7,360.5 925.1,354.8 925.4,351.4 925.5,349.5 925.9,349.7 926.4,349.1 926.8,346.7 927.2,345.5 927.6,345.8 928.0,347.7 928.5,348.4 928.9,349.4 929.1,347.9 929.3,350.3 929.7,349.0 930.1,348.6 930.5,349.5 931.0,350.6 931.4,353.1 931.8,353.0 932.0,352.8 932.2,353.6 932.7,353.6 933.1,351.9 933.5,351.3 933.8,351.1 934.3,349.6 934.8,349.7 935.2,348.3 935.6,346.6 936.0,345.4 936.4,346.4 936.9,349.4 937.3,351.5 937.6,352.7 938.1,355.6 938.5,354.1 939.0,355.7 939.4,356.4 939.8,354.1 940.2,352.8 940.6,351.3 941.1,349.6 941.4,347.1 941.9,346.8 942.3,345.7 942.7,345.0 943.2,341.8 943.6,343.7 944.0,345.7 944.4,348.4 944.8,349.1 945.3,351.9 945.7,353.8 946.1,355.9 946.5,349.7 946.9,345.3 947.4,338.1 947.8,334.2 948.2,334.0 948.6,331.8 948.9,331.1 949.0,330.7 949.5,328.3 949.9,326.4 950.3,324.6 950.7,323.3 951.1,320.5 951.6,318.7 952.0,317.5 952.4,313.7 952.6,312.2 952.8,313.6 953.2,317.3 953.7,320.3 953.8,321.9 954.1,320.0 954.5,317.1 954.9,314.8 955.2,311.9 955.3,313.3 955.8,314.4 956.2,316.9 956.6,317.8 957.0,318.0 957.4,319.9 957.8,323.0 958.3,317.3 958.7,314.3 959.0,312.9 959.5,314.7 960.0,315.4 960.4,317.1 960.8,316.3 961.2,316.3 961.6,314.7 962.1,312.1 962.5,311.1 962.9,306.8 963.3,303.0 963.6,298.6 963.7,297.6 964.2,291.6 964.6,285.5 964.8,283.2 965.0,282.3 965.4,282.1 965.8,281.4 966.0,280.7 966.3,278.7 966.7,275.1 967.1,271.6 967.4,268.3 967.5,270.1 967.9,275.5 968.4,279.4 968.8,282.2 969.2,278.4 969.6,275.4 970.0,271.2 970.5,274.2 970.9,274.3 971.3,288.2 971.7,301.0 972.1,300.3 972.6,299.7 973.0,299.3 973.4,296.4 973.8,298.7 974.2,300.6 974.7,301.0 975.1,302.3 975.2,300.8 975.5,300.2 975.9,299.2 976.3,297.3 976.8,293.9 977.2,288.4 977.6,282.2 977.8,280.3 978.0,280.6 978.4,279.6 978.9,280.2 979.2,280.2 979.7,276.6 980.1,272.4 980.4,271.9 981.0,266.5 981.3,262.5 981.8,266.3 982.2,269.3 982.5,270.9 982.6,272.6 983.1,279.8 983.4,284.5 983.9,295.7 984.3,304.3 984.7,307.2 985.2,308.4 985.6,308.0 986.0,302.1 986.4,295.2 986.8,288.4 987.3,292.2 987.7,299.7 988.1,303.7 988.3,304.5 988.5,310.5 988.9,317.9 989.4,324.5 989.8,313.7 990.2,297.6 990.3,294.7 990.6,293.6 991.0,292.3 991.5,293.7 991.7,291.9 991.9,290.9 992.3,291.5 992.7,291.1 993.1,291.5 993.6,292.7 994.0,296.8 994.4,298.8 994.7,302.4 994.8,302.1 995.2,302.6 995.7,302.9 996.1,304.7 996.5,313.4 996.9,320.0 997.3,326.5 997.8,329.2 998.2,332.6 998.6,334.2 999.0,336.2 999.4,331.7 999.9,330.1 1000.3,325.7 1000.7,320.6 1001.1,316.5 1001.5,323.6 1002.0,329.9 1002.2,333.3 1002.4,330.6 1002.8,329.0 1003.0,327.2 1003.2,326.6 1003.6,333.6 1004.1,340.7 1004.3,342.4 1004.5,343.5 1004.9,347.2 1005.3,349.7 1005.7,350.2 1006.2,355.4 1006.6,357.4 1007.0,361.8 1007.4,358.3 1007.8,354.6 1008.3,354.1 1008.6,353.8 1009.1,354.7 1009.5,355.3 1009.9,355.4 1010.4,358.4 1010.8,358.3 1011.2,361.7 1011.6,359.1 1012.0,357.7 1012.5,355.6 1012.6,355.3 1012.9,355.3 1013.3,350.6 1013.7,348.2 1014.1,345.7 1014.6,345.4 1015.0,342.3 1015.2,342.1 1015.4,343.4 1015.8,345.6 1016.1,343.6 1016.2,342.3 1016.7,341.0 1017.1,340.3 1017.5,336.6 1017.9,336.4 1018.2,335.0 1018.3,335.7 1018.8,338.3 1019.2,342.8 1019.6,346.6 1020.0,338.4 1020.4,329.7 1020.9,323.8 1021.3,322.6 1021.7,321.3 1022.1,319.2 1022.3,319.2 1022.5,316.7 1023.0,314.9 1023.4,316.7 1023.6,315.5 1023.8,315.5 1024.2,316.9 1024.6,316.9 1024.8,319.9 1025.1,317.0 1025.5,314.7 1025.9,314.4 1026.3,313.2 1026.7,308.9 1027.2,306.0 1027.4,303.8 1027.6,303.5 1028.0,300.3 1028.3,301.9 1028.4,299.9 1028.8,299.7 1029.1,297.3 1029.3,302.3 1029.7,309.6 1030.0,316.2 1030.5,313.8 1030.9,314.3 1031.4,313.2 1031.7,312.7 1032.2,314.4 1032.6,313.4 1033.0,314.8 1033.5,318.2 1033.9,320.6 1034.3,322.5 1034.7,323.8 1035.1,324.7 1035.6,328.5 1035.7,328.2 1036.0,331.6 1036.4,334.6 1036.8,338.5 1037.0,339.7 1037.2,342.6 1037.7,345.3 1038.1,349.0 1038.3,350.7 1038.5,350.3 1038.9,347.7 1039.3,345.0 1039.6,342.6 1039.8,342.4 1040.2,340.7 1040.6,339.2 1040.8,338.2 1041.0,338.4 1041.4,341.7 1041.9,343.0 1042.2,345.0 1042.7,340.3 1043.1,339.5 1043.4,338.6 1043.5,339.5 1044.0,346.0 1044.4,351.1 1044.8,342.6 1045.2,330.7 1045.6,317.3 1046.1,319.2 1046.5,319.9 1046.9,322.4 1047.3,325.1 1047.7,324.8 1048.2,323.1 1048.6,321.7 1048.8,321.6 1049.0,321.7 1049.4,323.5 1049.8,325.5 1050.0,325.3 1050.3,326.5 1050.7,326.5 1051.1,327.6 1051.5,329.4 1051.9,332.0 1052.4,332.6 1052.6,333.5 1052.8,333.9 1053.2,338.3 1053.5,338.6 1053.6,339.3 1054.0,336.2 1054.5,336.9 1054.9,335.5 1055.2,334.7 1055.7,329.2 1056.1,324.1 1056.4,320.8 1056.6,321.9 1057.0,324.5 1057.4,325.4 1057.8,325.6 1058.2,326.4 1058.7,327.3 1059.1,328.7 1059.5,330.0 1059.9,329.4 1060.3,329.2 1060.8,327.4 1061.0,329.4 1061.2,332.6 1061.6,340.0 1062.0,345.9 1062.2,347.5 1062.4,347.9 1062.9,348.5 1063.3,348.2 1063.7,348.7 1063.9,350.8 1064.1,349.3 1064.5,345.5 1065.0,343.7 1065.1,341.8 1065.4,343.7 1065.8,342.7 1066.2,344.3 1066.5,344.4 1066.6,343.1 1067.1,338.7 1067.5,335.3 1067.9,331.4 1068.3,330.8 1068.7,331.6 1069.1,333.2 1069.6,332.2 1070.0,333.5 1070.4,333.7 1070.8,335.9 1071.3,341.0 1071.7,344.5 1072.1,346.1 1072.5,346.4 1072.9,347.3 1073.4,347.6 1073.8,348.9 1074.2,348.8 1074.6,343.9 1075.0,343.1 1075.2,343.7 1075.5,342.3 1075.9,340.5 1076.1,338.9 1076.3,340.0 1076.7,341.0 1077.1,340.7 1077.6,342.3 1077.8,341.5 1078.0,339.5 1078.4,339.7 1078.8,339.0 1079.2,337.5 1079.6,336.8 1080.1,338.4 1080.5,338.9 1080.9,341.7 1081.3,342.6 1081.8,342.6 1082.2,340.1 1082.6,338.7 1083.0,336.4 1083.4,338.2 1083.9,338.0 1084.3,339.2 1084.7,340.3 1085.1,338.8 1085.5,335.9 1086.0,333.8 1086.4,332.8 1086.8,331.3 1087.2,331.3 1087.6,330.7 1088.1,330.6 1088.5,332.2 1088.9,330.9 1089.1,331.6 1089.3,330.4 1089.7,328.1 1090.2,326.8 1090.6,326.9 1090.9,326.2 1091.0,326.7 1091.4,327.1 1091.8,327.9 1092.3,329.5 1092.6,330.2 1093.1,325.9 1093.5,324.4 1093.9,331.7 1094.4,334.9 1094.7,339.2 1095.2,342.8 1095.6,346.5 1096.0,348.5 1096.5,349.6 1096.9,352.5 1097.3,353.5 1097.5,354.4 1097.7,352.5 1098.1,350.5 1098.6,347.2 1098.7,346.0 1099.0,343.3 1099.4,339.9 1099.8,337.6 1100.2,340.2 1100.7,342.5 1101.1,344.5 1101.3,344.8 1101.5,344.0 1101.9,345.4 1102.3,344.9 1102.8,344.7 1103.0,343.5 1103.2,342.8 1103.6,342.2 1104.0,340.9 1104.4,337.9 1104.8,337.2 1105.3,334.0 1105.7,333.8 1106.1,331.9 1106.5,331.3 1107.0,332.4 1107.4,331.8 1107.8,333.4 1108.2,332.5 1108.6,331.6 1109.1,331.1 1109.5,328.8 1109.9,326.8 1110.3,323.8 1110.7,323.1 1110.9,322.5 1111.2,325.7 1111.6,330.0 1112.0,333.2 1112.4,332.6 1112.8,329.6 1113.3,328.4 1113.5,326.9 1113.7,325.3 1114.1,323.7 1114.5,321.0 1114.9,319.9 1115.4,322.7 1115.8,325.2 1116.1,326.7 1116.2,326.6 1116.6,328.4 1117.0,328.4 1117.5,331.2 1117.8,333.2 1118.3,332.7 1118.7,332.3 1119.1,330.9 1119.6,330.1 1120.0,329.7 1120.4,329.4 1120.8,329.6 1121.2,330.4 1121.7,327.7 1122.1,327.4 1122.5,327.7 1122.9,326.2 1123.3,326.4 1123.5,325.1 1123.8,327.3 1124.2,329.1 1124.6,333.0 1124.9,334.2 1125.0,335.9 1125.4,337.5 1125.9,338.9 1126.1,340.3 1126.3,339.3 1126.7,336.0 1127.1,332.5 1127.3,330.9 1127.5,330.8 1128.0,330.7 1128.4,329.0 1128.7,328.9 1129.2,334.9 1129.6,342.0 1129.9,345.7 1130.1,346.1 1130.5,349.2 1130.9,351.2 1131.3,355.4 1131.7,357.0 1132.2,357.5 1132.5,359.3 1133.0,359.4 1133.4,358.5 1133.8,357.7 1134.3,354.8 1134.7,353.1 1135.1,350.0 1135.3,349.3 1135.5,350.3 1135.9,346.6 1136.4,346.4 1136.5,346.8 1136.8,347.3 1137.2,350.2 1137.6,351.0 1137.9,353.4 1138.0,353.9 1138.5,355.8 1138.9,357.8 1139.1,359.8 1139.3,360.8 1139.7,364.1 1140.1,366.1 1140.5,368.7 1141.0,378.6 1141.4,387.3 1141.8,391.9 1142.2,398.6 1142.7,400.3 1143.1,399.9 1143.5,406.3 1143.9,414.7 1144.3,411.1 1144.8,403.0 1145.2,398.4 1145.6,393.9 1146.0,387.7 1146.4,391.4 1146.9,396.7 1147.3,393.9 1147.7,390.8 1148.1,387.0 1148.5,387.3 1149.0,390.7 1149.4,393.7 1149.6,393.2 1149.8,393.0 1150.2,390.2 1150.6,386.7 1151.0,385.0 1151.5,388.6 1151.9,392.5 1152.2,393.6 1152.3,393.9 1152.7,394.5 1153.2,396.5 1153.4,396.4 1153.6,397.1 1154.0,399.3 1154.4,400.6 1154.8,400.6 1155.3,396.6 1155.7,393.5 1156.0,390.5 1156.5,382.6 1156.9,375.9 1157.4,372.3 1157.8,369.9 1158.2,369.4 1158.6,366.9 1159.0,362.9 1159.5,358.7 1159.9,358.0 1160.3,356.2 1160.7,355.9 1160.9,356.6 1161.1,350.3 1161.6,341.8 1161.7,336.8 1162.0,337.3 1162.4,341.7 1162.8,343.2 1163.1,344.1 1163.7,344.0 1164.1,344.2 1164.3,344.5 1164.5,342.7 1164.9,349.9 1165.3,356.9 1165.6,357.8 1165.8,358.2 1166.2,361.2 1166.6,365.0 1167.0,360.1 1167.4,356.4 1167.8,351.1 1168.3,347.3 1168.7,344.2 1169.1,339.7 1169.5,336.2 1170.0,333.6 1170.4,327.8 1170.8,334.0 1171.2,337.5 1171.6,342.4 1172.1,343.4 1172.5,342.9 1172.9,340.4 1173.0,341.8 1173.3,344.9 1173.7,348.2 1174.2,352.2 1174.4,354.5 1174.6,353.1 1175.0,355.0 1175.4,356.5 1175.7,356.4 1175.8,356.1 1176.3,353.6 1176.7,352.0 1177.0,349.7 1177.5,350.1 1177.9,350.5 1178.3,347.8 1178.8,348.1 1179.2,348.5 1179.6,349.0 1180.0,354.0 1180.5,357.9 1180.9,365.0 1181.3,362.2 1181.7,358.4 1182.1,356.0 1182.6,353.0 1183.0,350.5 1183.4,347.2 1183.8,344.9 1184.2,343.1 1184.7,341.2 1184.9,340.0 1185.1,341.9 1185.5,343.1 1185.9,343.9 1186.1,346.4 1186.3,345.0 1186.8,344.8 1187.2,341.9 1187.5,342.0 1187.6,343.7 1188.0,345.0 1188.4,345.5 1188.7,345.6 1188.9,344.2 1189.3,341.4 1189.7,337.7 1190.1,334.5 1190.4,332.1 1191.0,335.7 1191.4,339.6 1191.8,341.1 1192.2,342.6 1192.6,343.8 1193.0,342.8 1193.5,343.4 1193.9,344.9 1194.3,345.8 1194.7,343.9 1195.2,337.9 1195.6,334.9 1196.0,333.9 1196.4,330.7 1196.8,329.5 1197.0,329.0 1197.3,327.3 1197.7,329.1 1198.1,329.4 1198.5,329.5 1198.9,328.5 1199.4,327.4 1199.8,325.8 1200.0,325.8 1200.2,327.8 1200.6,330.4 1201.0,331.3 1201.4,333.4 1201.9,330.0 1202.3,324.7 1202.6,324.4 1203.1,326.6 1203.6,328.6 1203.8,331.7 1204.0,331.6 1204.4,326.4 1204.8,322.8 1205.2,319.9 1205.7,319.0 1206.1,318.0 1206.4,316.6 1206.9,317.7 1207.3,321.9 1207.8,322.3 1208.2,320.6 1208.6,320.4 1209.0,318.2 1209.4,315.3 1209.9,311.5 1210.3,307.8 1210.7,308.5 1211.1,311.7 1211.5,312.8 1211.8,314.2 1212.0,314.7 1212.4,312.4 1212.6,312.5 1212.8,310.3 1213.0,307.2 1213.2,308.2 1213.6,308.0 1214.0,308.1 1214.4,306.9 1214.9,308.6 1215.3,310.9 1215.7,312.8 1216.2,314.6 1216.6,316.3 1217.0,316.2 1217.4,318.0 1217.8,319.8 1218.3,321.7 1218.7,319.7 1219.1,317.5 1219.5,316.0 1219.7,315.5 1219.9,305.1 1220.4,306.3 1220.8,307.5 1221.2,308.5 1221.6,307.5 1222.0,309.5 1222.3,309.2 1222.5,302.2 1222.9,292.7 1223.3,284.3 1223.6,278.1 1223.7,274.2 1224.1,268.1 1224.6,262.2 1224.8,258.1 1225.0,258.8 1225.4,262.3 1225.8,261.6 1226.0,263.0 1226.2,257.0 1226.7,250.6 1226.9,247.9 1227.1,245.9 1227.5,242.9 1227.9,240.2 1228.3,243.9 1228.8,250.6 1229.1,256.3 1229.6,254.3 1230.0,253.4 1230.3,251.2 1230.9,249.7 1231.3,248.3 1231.7,245.9 1232.1,250.9 1232.5,255.3 1233.0,261.2 1233.4,265.3 1233.8,268.8 1234.0,270.3 1234.2,270.1 1234.6,267.1 1235.1,266.4 1235.2,265.2 1235.5,264.8 1235.9,263.9 1236.3,265.0 1236.6,264.9 1236.7,264.9 1237.2,264.5 1237.6,266.3 1237.8,266.7 1238.0,268.1 1238.4,272.6 1238.8,277.7 1239.0,279.2 1239.3,283.7 1239.7,293.1 1240.1,299.2 1240.5,294.8 1240.9,286.5 1241.3,282.6 1241.8,290.0 1242.2,296.1 1242.5,300.1 1243.0,292.1 1243.5,289.0 1243.9,291.1 1244.3,293.8 1244.7,295.3 1245.1,297.0 1245.6,294.9 1246.0,293.8 1246.4,297.2 1246.8,299.6 1247.2,301.0 1247.4,300.8 1247.7,304.6 1248.1,307.9 1248.3,308.9 1248.5,307.1 1248.8,306.4 1248.9,307.1 1249.3,314.2 1249.6,316.5 1249.8,316.2 1250.2,318.1 1250.6,318.1 1251.0,320.4 1251.3,321.2 1251.4,319.5 1251.9,317.3 1252.3,315.6 1252.5,312.9 1252.7,311.0 1253.0,306.9 1253.1,307.4 1253.5,304.9 1253.9,305.5 1254.3,305.3 1254.8,309.0 1255.2,313.2 1255.6,314.2 1256.1,315.6 1256.5,317.8 1256.9,315.5 1257.3,312.3 1257.7,310.8 1258.2,309.9 1258.6,310.0 1259.0,309.8 1259.1,310.0 1259.4,312.7 1259.8,315.2 1260.3,319.2 1260.5,319.5 1260.7,319.4 1261.1,323.7 1261.5,325.5 1261.7,326.8 1261.9,326.1 1262.4,322.4 1262.8,319.3 1263.0,317.0 1263.2,316.0 1263.6,315.0 1263.9,313.0 1264.0,313.1 1264.3,313.8 1264.9,317.2 1265.3,319.0 1265.7,319.6 1266.1,322.8 1266.6,325.7 1267.0,330.5 1267.4,330.9 1267.8,331.7 1268.2,330.4 1268.7,336.7 1269.1,340.8 1269.2,342.4 1269.5,339.1 1269.9,332.9 1270.3,327.0 1270.8,327.4 1271.2,326.9 1271.6,329.6 1272.0,331.0 1272.4,331.4 1272.9,334.9 1273.0,335.9 1273.3,333.3 1273.7,327.7 1274.1,321.9 1274.4,317.6 1275.0,322.0 1275.4,327.4 1275.7,330.3 1275.8,329.6 1276.2,330.4 1276.6,329.7 1277.0,331.2 1277.5,332.8 1277.9,334.5 1278.3,335.2 1278.7,340.3 1279.2,343.5 1279.6,346.1 1280.0,351.9 1280.4,357.1 1280.8,357.1 1281.3,352.6 1281.7,349.7 1282.1,349.7 1282.5,345.8 1282.9,352.4 1283.4,360.3 1283.8,366.8 1284.2,372.0 1284.6,377.4 1285.0,382.4 1285.5,387.3 1285.7,390.4 1285.9,391.7 1286.3,395.3 1286.7,398.9 1287.0,400.9 1287.1,403.6 1287.6,409.6 1288.0,415.6 1288.2,418.3 1288.4,427.2 1288.8,434.4 1289.2,439.2 1289.7,443.9 1290.1,449.0 1290.5,454.2 1290.9,459.0 1291.3,462.2 1291.6,464.0 1291.8,472.8 1292.0,485.0 1292.2,481.3 1292.5,475.0 1293.0,490.0 1293.4,490.9 1293.9,491.7 1294.3,492.6 1294.7,495.9 1295.1,500.2 1295.5,504.4 1295.9,508.0 1296.4,513.6 1296.8,518.4 1297.1,521.8 1297.2,523.2 1297.6,528.0 1298.1,528.6 1298.5,528.6 1298.9,536.7 1299.3,545.0 1299.7,553.3" fill="none" stroke="#1f76a5" stroke-width="2.1" stroke-linejoin="round" stroke-linecap="round"/>
<path d="M53.2,492.3 53.6,491.3 54.0,489.2 54.4,485.6 54.8,486.3 55.3,485.2 55.7,483.0 56.1,482.9 56.5,482.0 56.7,481.5 57.0,481.7 57.4,482.9 57.8,482.7 58.2,483.6 58.6,482.7 59.1,482.4 59.5,481.2 59.9,479.8 60.3,480.5 60.7,481.9 61.2,483.2 61.5,483.8 62.0,486.3 62.4,487.5 62.8,485.6 63.1,486.1 63.3,488.2 63.7,489.8 64.1,491.7 64.5,493.3 64.9,496.3 65.1,494.7 65.4,495.1 65.8,498.1 66.2,498.4 66.6,499.0 67.0,497.2 67.5,494.5 67.9,495.0 68.3,494.3 68.7,491.7 69.1,490.9 69.6,490.8 70.0,489.1 70.4,489.0 70.7,488.9 71.2,484.1 71.7,479.6 72.1,477.1 72.3,475.8 72.5,475.0 72.9,472.9 73.3,474.1 73.8,472.6 73.9,473.8 74.2,471.2 74.6,472.3 75.0,470.9 75.4,468.2 75.9,472.6 76.3,477.5 76.7,479.2 77.1,479.0 77.5,479.8 77.9,482.3 78.4,482.9 78.8,484.4 79.2,486.1 79.6,484.2 80.1,486.6 80.3,488.8 80.5,486.9 80.9,485.3 81.3,486.2 81.7,485.4 81.9,485.7 82.2,486.6 82.6,488.0 83.0,491.5 83.4,490.5 83.8,490.7 84.3,489.5 84.7,486.2 85.1,485.3 85.5,486.4 85.9,485.3 86.4,482.3 86.8,481.3 87.2,480.6 87.5,480.0 87.6,479.7 88.0,477.2 88.5,474.8 88.9,472.7 89.3,472.2 89.7,467.4 90.1,469.9 90.6,473.0 91.0,474.0 91.1,476.0 91.4,475.0 91.8,475.5 92.2,474.3 92.7,474.1 93.0,474.3 93.5,472.8 93.9,470.6 94.3,468.9 94.8,471.5 95.2,469.7 95.4,468.0 95.6,468.6 96.0,467.8 96.4,468.2 96.9,467.0 97.0,466.5 97.3,464.5 97.7,463.8 98.1,460.6 98.3,461.4 98.5,463.8 99.0,461.3 99.4,460.3 99.7,464.9 100.2,464.0 100.6,456.3 101.0,451.8 101.5,451.7 101.9,448.3 102.3,446.1 102.6,445.1 102.7,445.0 103.2,440.5 103.6,437.5 104.0,437.2 104.4,437.7 104.8,439.8 105.0,439.7 105.3,440.2 105.7,438.4 106.1,437.3 106.5,439.1 106.9,438.9 107.4,439.3 107.8,440.7 108.2,440.7 108.6,439.0 109.0,438.3 109.5,436.8 109.8,434.6 109.9,436.0 110.3,436.0 110.7,436.0 111.1,436.7 111.4,437.4 111.6,438.8 112.0,436.8 112.4,437.0 112.8,435.3 113.2,436.2 113.7,436.9 114.1,435.1 114.5,432.9 114.9,432.4 115.3,431.9 115.8,430.6 116.1,431.3 116.6,428.3 117.0,425.7 117.4,425.2 117.7,424.9 117.9,425.4 118.3,425.9 118.7,426.7 118.8,424.3 119.1,423.3 119.5,416.3 120.0,417.3 120.4,424.4 120.8,430.7 121.2,431.5 121.6,431.3 122.0,430.1 122.5,431.0 122.9,425.5 123.3,418.2 123.7,417.7 124.2,418.9 124.6,416.6 124.9,418.4 125.4,416.2 125.8,417.0 126.3,415.7 126.5,409.5 126.7,412.3 127.1,411.2 127.5,414.8 127.8,414.5 127.9,414.0 128.4,410.0 128.8,411.8 129.2,413.3 129.6,409.8 130.0,411.6 130.5,411.5 130.9,413.7 131.3,413.7 131.7,424.5 132.1,427.9 132.5,433.8 133.0,441.5 133.4,446.1 133.7,450.0 133.8,450.5 134.2,453.1 134.7,453.8 134.9,455.9 135.1,457.1 135.5,458.8 135.9,461.1 136.1,461.3 136.3,461.2 136.8,458.0 137.2,455.7 137.3,454.3 137.6,454.0 138.0,452.5 138.4,454.2 138.6,452.4 138.9,450.9 139.3,450.2 139.7,448.3 140.0,445.4 140.5,443.9 141.0,447.5 141.4,449.0 141.6,447.0 141.8,448.6 142.2,445.0 142.6,441.6 143.1,441.0 143.5,438.8 143.7,438.0 143.9,435.8 144.3,440.5 144.7,438.6 145.2,436.8 145.3,439.7 145.6,442.0 146.0,446.8 146.4,450.2 146.8,446.9 147.3,444.1 147.7,439.4 148.0,438.5 148.5,441.5 148.9,443.9 149.4,448.5 149.6,451.2 149.8,450.0 150.2,448.0 150.6,449.1 151.0,445.4 151.2,445.3 151.5,447.9 151.9,447.5 152.3,450.3 152.7,451.9 153.1,452.7 153.6,449.6 154.0,448.6 154.4,449.2 154.8,442.3 155.2,445.2 155.7,438.8 156.0,435.0 156.5,436.3 156.9,434.9 157.3,431.5 157.8,433.5 158.2,433.9 158.4,431.9 158.6,431.8 159.0,433.1 159.4,431.8 159.9,433.2 160.3,431.0 160.7,427.0 161.1,423.3 161.5,428.8 162.0,432.3 162.4,434.2 162.8,433.4 163.2,433.3 163.5,432.5 163.6,433.3 164.1,434.2 164.5,437.1 164.7,439.7 164.9,438.2 165.3,438.0 165.7,438.9 166.2,439.3 166.6,439.8 167.0,440.8 167.1,440.9 167.4,441.5 167.8,440.5 168.3,440.1 168.7,440.1 169.1,439.0 169.5,439.4 169.9,437.8 170.4,436.6 170.8,436.2 171.1,436.0 171.6,434.6 172.0,436.2 172.5,434.6 172.7,438.4 172.9,436.7 173.3,433.9 173.7,431.7 174.1,430.9 174.6,429.7 175.0,427.1 175.4,424.9 175.8,423.6 176.2,421.1 176.7,420.8 177.1,425.4 177.5,428.1 177.9,432.5 178.3,429.8 178.8,431.3 179.2,430.4 179.4,430.5 179.6,434.4 180.0,433.4 180.4,439.8 180.7,441.1 180.9,442.9 181.3,440.4 181.7,440.5 182.1,441.5 182.5,441.9 183.0,439.6 183.4,436.3 183.8,434.4 184.2,434.4 184.6,431.8 185.1,426.9 185.5,427.0 185.9,424.7 186.3,423.0 186.7,420.8 187.2,420.7 187.6,418.5 187.8,418.9 188.0,418.3 188.4,418.8 188.8,419.1 189.3,417.6 189.4,417.7 189.7,418.3 190.1,419.8 190.5,420.3 190.9,419.3 191.4,420.0 191.8,420.0 192.2,420.7 192.6,417.2 193.0,416.8 193.4,418.1 193.9,413.9 194.3,411.4 194.7,410.9 195.1,412.4 195.6,411.6 195.8,412.6 196.0,411.9 196.4,411.6 196.8,409.1 197.2,408.2 197.4,406.2 197.7,407.3 198.1,409.0 198.5,411.5 198.9,412.8 199.3,412.2 199.8,413.5 200.2,414.2 200.6,414.0 201.0,413.3 201.4,412.9 201.9,411.4 202.2,412.1 202.7,413.3 203.1,413.2 203.5,414.6 203.8,414.1 204.0,414.2 204.4,414.1 204.8,415.2 205.2,413.4 205.4,414.0 205.6,414.7 206.1,414.9 206.5,415.6 206.9,415.1 207.3,414.2 207.7,415.2 208.2,414.4 208.6,414.4 209.0,414.9 209.4,416.8 209.8,417.8 210.2,417.6 210.7,420.4 211.1,421.9 211.5,423.3 211.8,424.3 211.9,425.0 212.4,427.3 212.8,429.2 213.2,430.7 213.3,431.9 213.6,431.6 214.0,432.4 214.5,433.2 214.9,434.2 215.3,434.0 215.7,435.3 216.1,435.3 216.6,435.4 217.0,435.4 217.4,436.6 217.8,436.9 218.1,436.2 218.7,435.1 219.1,434.9 219.5,434.2 219.7,435.4 219.9,435.9 220.3,435.2 220.8,434.3 221.2,433.2 221.6,433.1 221.8,433.9 222.0,434.1 222.4,431.1 222.9,427.6 223.3,424.2 223.7,420.2 224.0,417.1 224.5,417.2 225.0,417.4 225.3,418.8 225.8,416.5 226.2,416.5 226.6,416.3 226.9,414.4 227.1,415.5 227.5,415.4 227.9,414.7 228.3,415.5 228.5,415.6 228.7,415.5 229.2,415.9 229.6,416.7 230.0,417.4 230.4,416.3 230.8,416.6 231.3,415.2 231.7,416.4 232.1,417.3 232.5,416.8 232.9,416.6 233.4,416.9 233.8,415.0 234.2,415.0 234.5,416.1 235.0,413.5 235.5,409.8 235.7,411.3 235.9,405.6 236.3,401.3 236.7,397.1 237.1,390.2 237.6,387.9 238.0,386.5 238.3,387.9 238.4,390.2 238.8,390.9 239.2,392.0 239.6,392.4 240.1,393.9 240.5,390.6 240.8,393.2 241.3,387.2 241.8,379.7 242.0,382.0 242.2,379.2 242.6,380.2 243.0,382.0 243.4,387.2 243.9,384.7 244.3,385.0 244.7,384.4 245.1,384.8 245.5,383.2 245.9,384.3 246.4,382.0 246.8,373.0 247.2,367.3 247.6,369.7 248.1,372.5 248.3,372.8 248.5,371.7 248.9,365.1 249.3,363.1 249.7,366.0 250.2,368.0 250.6,377.0 250.7,380.8 251.0,377.2 251.4,378.2 251.8,381.2 252.3,378.4 252.7,372.4 253.1,368.4 253.5,364.8 253.9,360.8 254.4,366.8 254.8,370.7 255.2,372.0 255.6,378.0 256.0,384.1 256.3,385.7 256.5,383.3 256.9,377.2 257.3,373.6 257.7,366.5 257.9,366.5 258.1,366.4 258.6,368.7 259.0,369.1 259.4,367.4 259.8,366.7 260.2,366.2 260.7,360.7 261.1,358.2 261.5,360.7 261.9,362.1 262.3,367.9 262.7,371.2 263.2,369.0 263.6,366.7 263.9,365.0 264.4,365.0 264.9,363.5 265.3,365.3 265.7,370.1 266.1,375.3 266.5,378.4 267.0,382.1 267.4,384.6 267.8,389.8 268.2,382.2 268.6,373.1 269.0,370.5 269.5,376.5 269.9,378.3 270.3,381.1 270.6,382.1 271.2,376.0 271.6,373.2 272.0,371.7 272.2,372.3 272.4,374.6 272.8,378.1 273.3,379.4 273.7,383.7 273.8,383.2 274.1,380.1 274.5,379.0 274.9,373.9 275.4,367.5 275.8,370.9 276.2,375.4 276.6,373.6 277.0,378.5 277.5,377.0 277.9,373.1 278.3,370.3 278.6,370.2 278.7,370.3 279.1,372.7 279.6,371.9 280.0,368.5 280.2,368.8 280.4,372.1 280.8,376.1 281.2,376.0 281.7,377.0 281.8,379.7 282.1,380.5 282.5,383.6 282.9,386.1 283.3,391.2 283.8,393.5 284.2,386.8 284.6,385.0 285.0,381.3 285.4,382.1 285.9,382.9 286.3,380.7 286.6,381.1 286.7,380.8 287.1,378.5 287.5,378.4 288.0,375.6 288.2,372.8 288.4,371.5 288.8,370.5 289.2,371.7 289.6,370.4 290.1,373.0 290.5,370.9 290.9,365.8 291.3,363.0 291.7,373.0 292.2,376.4 292.5,382.8 293.0,383.6 293.4,380.1 293.7,379.1 294.3,380.5 294.7,382.8 295.1,383.3 295.3,383.9 295.5,385.9 295.9,388.7 296.4,393.7 296.8,395.0 296.9,394.5 297.2,392.5 297.6,390.8 298.0,390.5 298.5,391.2 298.9,389.2 299.3,386.6 299.7,384.4 300.1,383.8 300.6,382.4 301.0,380.6 301.4,377.8 301.7,377.5 302.2,377.5 302.7,372.7 303.1,372.4 303.3,370.9 303.5,371.8 303.9,371.1 304.3,369.3 304.8,370.3 304.9,372.3 305.2,371.4 305.6,372.6 306.0,371.4 306.4,368.2 306.9,370.7 307.3,369.7 307.7,367.3 308.1,369.6 308.5,369.9 309.0,368.8 309.4,370.7 309.7,368.8 309.8,368.1 310.2,358.8 310.5,355.8 310.6,355.5 311.1,362.2 311.5,365.0 311.9,365.4 312.3,360.2 312.7,357.5 312.9,358.8 313.2,357.5 313.6,363.4 314.0,371.7 314.1,373.2 314.4,372.1 314.8,368.0 315.3,366.5 315.7,365.1 316.1,364.0 316.5,363.5 316.9,365.2 317.4,368.9 317.8,371.5 318.2,370.0 318.4,372.8 318.6,376.1 319.0,379.4 319.5,380.0 319.7,380.2 319.9,376.6 320.3,378.6 320.7,371.9 321.1,371.1 321.6,365.4 322.0,356.9 322.4,348.7 322.8,348.8 323.2,346.9 323.7,348.2 324.1,350.5 324.5,353.6 324.8,356.2 325.3,358.8 325.8,357.1 326.1,359.2 326.6,359.9 327.0,361.4 327.4,364.1 327.9,361.6 328.3,361.2 328.7,358.6 329.1,356.8 329.5,352.9 330.0,350.8 330.4,352.6 330.8,356.3 331.2,362.8 331.6,356.9 332.1,349.1 332.5,345.5 332.9,354.0 333.3,366.2 333.6,372.8 333.7,374.2 334.2,377.2 334.4,381.9 334.6,380.3 335.0,377.4 335.4,372.4 335.7,367.9 335.8,369.7 336.3,371.0 336.7,375.1 337.1,378.8 337.5,376.7 337.9,374.0 338.4,373.0 338.8,375.1 339.2,374.2 339.6,377.2 340.0,378.8 340.5,378.4 340.9,378.9 341.2,380.2 341.7,372.6 342.1,366.9 342.4,366.6 342.6,365.7 343.0,366.3 343.4,361.8 343.8,358.4 344.2,361.2 344.7,361.6 345.1,358.5 345.5,356.2 345.9,359.3 346.3,358.9 346.8,361.7 347.1,360.9 347.6,361.0 348.0,357.1 348.2,358.2 348.4,362.9 348.9,364.2 349.3,368.2 349.5,368.3 349.7,364.6 350.1,357.3 350.5,354.5 350.8,350.1 351.0,352.0 351.4,348.2 351.8,348.3 352.2,354.2 352.6,363.1 353.0,370.4 353.5,363.0 353.9,357.7 354.3,353.2 354.7,356.8 355.2,355.2 355.6,353.2 355.9,353.4 356.4,347.4 356.8,345.6 357.3,347.6 357.5,346.7 357.7,345.9 358.1,343.8 358.5,345.2 358.9,347.1 359.1,343.0 359.4,345.5 359.8,347.9 360.2,351.6 360.4,352.3 360.6,350.6 361.0,347.4 361.5,346.3 361.9,338.9 362.3,332.4 362.6,328.1 362.7,331.8 363.1,338.4 363.6,346.5 363.9,354.4 364.0,351.9 364.4,347.4 364.8,345.1 365.1,341.7 365.7,343.1 366.1,344.7 366.3,343.3 366.5,344.2 366.9,344.4 367.3,341.9 367.8,336.9 368.2,336.8 368.6,333.6 369.0,332.1 369.4,330.7 369.9,325.8 370.3,325.8 370.7,321.5 371.0,319.8 371.5,326.1 372.0,332.2 372.2,334.4 372.4,329.1 372.8,327.7 373.2,322.5 373.4,322.9 373.6,327.1 374.1,331.6 374.5,336.0 374.9,337.5 375.3,340.6 375.7,342.9 376.2,346.8 376.6,350.0 377.0,344.1 377.4,345.8 377.8,338.3 378.2,333.3 378.7,337.6 379.1,340.8 379.5,342.9 379.9,336.4 380.4,334.9 380.6,331.3 380.8,334.8 381.2,339.3 381.6,339.6 382.0,345.4 382.5,352.3 382.9,360.9 383.3,366.3 383.7,371.3 384.1,374.5 384.6,378.3 385.0,381.7 385.4,379.5 385.8,377.2 386.2,375.5 386.7,372.4 387.0,370.2 387.5,375.3 387.9,377.1 388.1,377.0 388.3,374.0 388.8,377.0 389.2,374.6 389.4,372.2 389.6,370.9 390.0,368.4 390.4,369.8 390.9,365.7 391.3,363.2 391.7,358.5 392.1,360.3 392.5,357.3 393.0,359.4 393.4,364.8 393.8,366.2 394.2,365.4 394.6,363.5 395.1,356.5 395.4,355.4 395.9,357.4 396.3,362.0 396.5,365.5 396.7,364.0 397.2,370.8 397.6,371.9 398.0,369.4 398.4,369.6 398.8,370.2 399.3,368.5 399.7,371.3 400.1,371.4 400.5,373.3 400.9,370.6 401.3,367.6 401.8,377.2 402.2,381.3 402.4,385.4 402.6,392.9 403.0,399.3 403.4,407.5 403.9,404.9 404.3,402.0 404.5,401.8 404.7,406.5 405.1,413.4 405.3,415.4 405.6,413.0 406.0,408.3 406.4,406.7 406.6,406.2 406.8,408.6 407.2,408.1 407.7,413.9 408.1,411.0 408.5,405.6 408.8,405.2 408.9,407.7 409.3,410.7 409.8,414.0 410.1,416.8 410.6,413.6 411.0,409.7 411.4,403.9 411.7,403.7 411.9,406.8 412.3,408.1 412.7,411.6 412.9,413.3 413.1,411.0 413.5,410.4 414.0,403.9 414.4,402.2 414.8,397.3 415.2,393.1 415.6,392.4 416.1,388.8 416.5,388.3 416.9,389.3 417.3,393.4 417.7,395.6 418.2,393.4 418.6,390.7 418.8,387.9 419.0,392.3 419.4,395.6 419.8,400.7 420.3,400.3 420.7,394.8 420.9,391.0 421.1,392.0 421.5,398.3 421.9,397.6 422.4,399.6 422.8,401.8 423.1,406.5 423.6,403.9 424.0,402.8 424.4,401.0 424.9,400.4 425.3,400.2 425.7,400.7 426.1,400.1 426.6,394.6 426.8,390.9 427.0,387.9 427.4,384.2 427.8,380.4 428.2,383.7 428.7,381.1 429.1,382.9 429.5,382.4 429.9,382.4 430.3,382.7 430.8,383.8 431.2,383.0 431.5,384.0 432.0,379.0 432.4,379.5 432.9,383.7 433.1,380.2 433.3,381.3 433.7,384.9 434.1,384.9 434.5,388.5 434.7,386.7 435.0,385.6 435.4,386.8 435.8,387.0 436.0,389.5 436.2,396.7 436.6,409.2 436.8,411.0 437.1,405.1 437.5,387.5 437.9,381.2 438.3,378.9 438.7,375.6 439.2,376.2 439.6,378.4 440.0,381.1 440.3,381.8 440.4,383.2 440.8,384.3 441.3,386.6 441.6,392.7 441.7,389.7 442.1,387.4 442.4,386.6 442.5,390.4 442.9,393.3 443.4,400.1 443.8,402.2 444.2,402.6 444.6,399.8 445.0,402.6 445.5,394.1 445.9,392.2 446.3,388.2 446.7,387.2 447.1,383.8 447.6,385.4 447.9,382.8 448.4,381.4 448.8,381.4 449.2,381.5 449.5,382.9 449.7,384.7 450.1,382.2 450.5,384.8 450.9,388.8 451.1,389.0 451.3,389.0 451.8,386.1 452.2,388.2 452.6,385.4 453.0,387.3 453.4,390.1 453.9,392.0 454.3,391.3 454.7,391.2 455.1,389.2 455.5,388.7 455.9,390.7 456.4,393.4 456.8,396.0 457.2,397.5 457.5,401.0 457.6,401.3 458.1,397.1 458.5,394.7 458.9,398.4 459.3,399.3 459.7,400.3 460.2,401.0 460.6,400.8 461.0,400.7 461.4,402.3 461.8,399.3 462.3,401.6 462.7,398.1 463.1,397.5 463.4,399.2 463.5,398.8 463.9,400.0 464.4,403.1 464.7,405.9 464.8,402.0 465.2,400.0 465.6,397.4 465.8,395.9 466.0,395.4 466.5,390.8 466.9,387.4 467.1,386.9 467.3,387.8 467.7,386.3 468.1,388.1 468.6,384.9 469.0,386.9 469.4,385.9 469.8,387.4 470.2,389.6 470.6,392.6 471.1,395.0 471.5,395.6 471.9,399.9 472.2,399.8 472.3,399.0 472.8,401.1 473.2,401.9 473.4,403.2 473.6,401.1 474.0,400.2 474.4,399.3 474.9,397.5 475.0,396.5 475.3,395.9 475.7,397.8 476.1,397.7 476.5,395.3 477.0,391.6 477.4,389.1 477.7,385.6 478.2,383.7 478.6,382.4 479.1,379.2 479.3,378.4 479.5,376.7 479.9,374.6 480.3,370.0 480.7,364.8 480.9,365.4 481.2,365.1 481.6,363.7 482.0,364.7 482.4,364.3 482.8,365.8 483.3,367.0 483.7,369.2 484.1,371.3 484.5,373.6 484.9,372.0 485.4,372.6 485.7,373.9 486.2,371.9 486.6,371.9 487.0,377.9 487.3,374.1 487.5,375.8 487.9,374.2 488.3,373.5 488.7,371.6 488.9,372.4 489.1,376.1 489.6,375.6 490.0,379.3 490.2,380.4 490.4,380.1 490.8,372.6 491.2,369.8 491.7,369.2 492.1,366.9 492.5,364.1 492.9,367.8 493.3,364.6 493.8,364.6 494.2,366.7 494.5,367.3 494.6,365.3 495.0,367.9 495.4,370.0 495.7,373.4 495.9,374.1 496.3,362.6 496.7,359.3 496.9,352.9 497.1,352.4 497.5,346.8 498.0,345.9 498.1,342.5 498.4,344.4 498.8,350.7 499.2,357.0 499.6,353.5 500.0,348.5 500.5,354.0 500.9,359.8 501.2,361.4 501.3,359.0 501.7,359.3 502.2,362.0 502.4,365.9 502.6,364.0 503.0,361.8 503.4,361.6 503.8,358.4 504.0,357.7 504.3,358.5 504.7,355.0 505.1,351.6 505.3,351.4 505.5,353.0 505.9,357.3 506.4,362.4 506.8,363.6 507.2,362.1 507.6,359.1 508.0,359.0 508.5,361.6 508.9,364.5 509.3,361.5 509.6,363.1 509.7,362.7 510.1,363.9 510.6,363.5 511.0,364.4 511.2,363.3 511.4,362.5 511.8,363.7 512.2,366.2 512.7,367.9 512.8,370.4 513.1,370.7 513.5,368.5 513.9,370.1 514.3,369.6 514.8,366.3 515.2,366.1 515.6,363.9 516.0,359.6 516.4,362.4 516.9,360.5 517.3,359.7 517.6,361.8 517.7,361.6 518.1,360.4 518.5,359.7 519.0,359.3 519.4,358.3 519.8,357.5 520.0,355.8 520.2,356.9 520.6,360.1 521.1,360.8 521.5,363.1 521.9,364.6 522.3,364.2 522.7,365.0 523.1,367.3 523.6,366.3 524.0,366.8 524.4,366.6 524.7,365.6 525.3,364.2 525.7,363.1 526.1,362.4 526.5,363.3 526.7,363.5 526.9,364.2 527.4,366.5 527.8,367.3 528.2,370.0 528.6,368.2 529.0,366.4 529.5,364.8 529.9,364.9 530.3,367.4 530.7,365.0 531.1,366.0 531.6,366.4 532.0,365.3 532.4,363.4 532.8,364.2 533.0,361.6 533.2,360.3 533.7,361.3 534.1,359.1 534.3,357.6 534.5,358.7 534.9,356.6 535.3,353.8 535.8,350.1 535.9,349.5 536.2,347.9 536.6,348.4 537.0,346.9 537.2,346.2 537.4,344.7 537.9,347.2 538.3,349.1 538.7,349.9 539.1,349.9 539.5,349.6 540.0,349.6 540.4,350.7 540.8,351.6 541.2,352.3 541.6,352.7 542.0,354.6 542.5,353.6 542.9,354.4 543.3,354.8 543.7,356.2 544.2,356.4 544.6,355.7 545.0,354.8 545.4,352.7 545.8,353.8 546.3,352.3 546.7,350.4 547.1,349.5 547.5,350.1 547.9,351.5 548.3,352.2 548.8,349.8 549.2,346.0 549.6,346.2 549.8,346.7 550.0,347.2 550.5,347.2 550.9,348.1 551.0,348.9 551.3,346.1 551.7,344.9 552.1,339.8 552.6,337.2 553.0,336.7 553.4,334.9 553.8,335.2 554.2,336.8 554.7,337.0 555.1,335.8 555.5,336.7 555.8,335.7 556.3,335.6 556.8,336.7 557.2,337.1 557.4,338.0 557.6,336.5 558.0,337.7 558.4,336.9 558.9,337.4 559.0,335.8 559.3,336.7 559.7,338.1 560.1,339.6 560.5,339.1 561.0,340.4 561.4,339.4 561.8,337.8 562.2,338.3 562.6,336.2 563.1,335.4 563.5,335.2 563.8,333.2 563.9,331.8 564.3,332.2 564.7,333.9 565.2,334.5 565.4,333.4 565.6,332.7 566.0,333.9 566.4,335.9 566.8,328.6 567.3,330.8 567.5,330.3 567.7,331.7 568.1,332.7 568.5,332.1 568.9,330.8 569.4,330.4 569.8,333.4 570.2,341.4 570.6,344.3 571.0,346.2 571.5,343.3 571.9,339.2 572.2,339.1 572.7,341.3 573.1,341.6 573.6,337.8 574.0,341.3 574.1,339.3 574.4,337.3 574.8,338.6 575.2,339.9 575.7,342.1 576.1,341.7 576.5,341.5 576.9,343.0 577.3,345.4 577.8,343.1 578.1,343.4 578.6,346.1 579.0,351.0 579.2,348.2 579.4,349.2 579.9,345.6 580.3,343.6 580.5,343.6 580.7,348.3 581.1,343.6 581.5,340.3 581.8,344.3 582.0,343.2 582.4,345.4 582.8,348.1 583.2,349.8 583.6,350.7 584.1,352.5 584.5,354.1 584.9,360.0 585.3,363.8 585.6,366.6 585.7,363.7 586.2,358.7 586.6,351.2 587.0,351.7 587.4,351.7 587.8,353.2 588.3,351.3 588.5,351.4 588.7,348.6 589.1,347.7 589.5,348.4 589.9,347.0 590.4,349.0 590.8,346.3 591.2,347.8 591.6,345.8 592.0,347.1 592.5,348.8 592.9,347.4 593.3,344.3 593.7,343.8 594.1,343.4 594.5,341.7 595.0,340.4 595.4,340.3 595.8,339.8 596.1,341.9 596.7,344.7 597.1,343.7 597.5,342.7 597.7,345.2 597.9,346.6 598.3,343.1 598.8,345.9 599.2,349.5 599.3,348.7 599.6,345.9 600.0,342.5 600.4,340.1 600.9,334.7 601.3,334.0 601.7,335.8 602.1,335.0 602.5,336.0 603.0,330.5 603.4,330.7 603.6,330.3 603.8,329.2 604.2,329.3 604.6,331.6 605.1,328.6 605.2,328.1 605.5,326.0 605.9,323.8 606.3,320.3 606.7,319.2 607.2,316.6 607.6,313.2 608.0,310.8 608.3,312.4 608.8,313.0 609.3,313.4 609.7,314.7 609.9,315.2 610.1,316.8 610.5,317.6 610.9,316.8 611.4,316.9 611.5,316.8 611.8,317.4 612.2,322.4 612.6,321.7 613.0,321.0 613.5,324.0 613.9,326.3 614.2,329.0 614.7,324.9 615.1,323.5 615.5,321.5 616.0,321.2 616.4,321.5 616.8,322.0 617.1,319.8 617.2,315.7 617.7,315.7 618.1,316.6 618.5,319.3 618.7,317.9 618.9,317.7 619.3,315.3 619.8,315.2 620.2,315.0 620.6,314.7 621.0,317.6 621.4,320.1 621.9,320.2 622.3,318.9 622.7,317.5 623.1,313.2 623.5,310.6 624.0,308.3 624.4,306.2 624.7,305.8 625.2,306.7 625.6,307.9 626.1,308.6 626.3,308.3 626.5,308.4 626.9,309.3 627.3,306.6 627.7,305.9 627.9,308.2 628.2,308.2 628.6,305.5 629.0,306.3 629.4,304.6 629.8,307.0 630.3,306.0 630.7,307.4 631.1,310.7 631.4,309.1 631.9,312.3 632.4,310.8 632.7,312.2 633.2,310.1 633.6,308.7 634.0,307.7 634.3,306.5 634.5,306.1 634.9,311.2 635.3,314.4 635.7,318.3 636.1,321.9 636.5,321.1 637.0,326.4 637.4,329.8 637.8,329.4 638.2,329.7 638.7,329.6 639.1,325.6 639.4,322.7 639.9,322.3 640.3,326.0 640.8,322.1 641.0,318.6 641.2,319.2 641.6,318.0 642.0,318.0 642.3,318.5 642.4,315.9 642.9,319.9 643.3,323.0 643.7,322.9 644.1,323.6 644.5,324.2 645.0,321.7 645.4,320.3 645.8,319.3 646.2,320.7 646.6,321.7 647.1,321.6 647.4,322.2 647.9,320.5 648.3,318.7 648.7,315.4 649.0,314.8 649.2,317.0 649.6,315.5 650.0,316.5 650.4,317.2 650.8,318.1 651.3,316.0 651.7,314.2 652.1,317.4 652.5,315.6 652.9,311.1 653.4,309.5 653.7,308.9 654.2,310.0 654.6,312.7 655.0,313.5 655.3,314.8 655.5,314.9 655.9,313.7 656.3,310.7 656.7,312.0 656.9,312.4 657.1,312.2 657.6,310.0 658.0,310.0 658.4,309.4 658.8,306.7 659.2,306.6 659.7,308.4 660.1,308.1 660.5,309.3 660.9,310.7 661.3,308.6 661.8,307.7 662.2,307.9 662.6,308.1 663.0,306.7 663.4,308.5 663.9,309.2 664.3,309.3 664.6,308.7 664.7,309.7 665.1,310.5 665.5,309.7 666.0,312.3 666.2,311.5 666.4,310.4 666.8,307.6 667.2,305.8 667.6,304.2 667.8,302.2 668.1,300.5 668.5,300.4 668.9,299.1 669.3,297.8 669.7,296.9 670.2,295.6 670.5,295.7 671.0,293.5 671.4,293.7 671.8,293.0 672.1,293.7 672.3,294.7 672.7,294.0 673.1,294.7 673.5,292.7 673.9,290.3 674.4,289.0 674.8,287.5 675.2,286.6 675.6,285.9 676.0,286.1 676.5,285.7 676.9,284.9 677.3,283.5 677.6,282.6 678.1,282.7 678.6,282.5 679.0,282.2 679.4,281.8 679.6,281.0 679.8,276.4 680.2,274.0 680.7,271.7 681.1,272.5 681.5,269.5 681.9,269.8 682.3,270.8 682.8,270.9 683.2,271.3 683.6,273.1 684.0,273.9 684.4,273.2 684.9,272.6 685.3,269.8 685.6,268.0 686.1,270.1 686.5,273.6 687.0,271.9 687.2,273.1 687.4,277.4 687.8,286.0 688.2,288.5 688.5,294.6 688.6,297.1 689.1,299.6 689.5,305.6 689.9,303.6 690.3,298.8 690.7,293.0 691.2,289.2 691.6,288.6 692.0,289.7 692.4,286.8 692.8,289.4 693.3,295.2 693.7,301.7 693.9,308.0 694.1,307.8 694.5,299.4 694.9,295.9 695.2,294.6 695.4,294.7 695.8,292.8 696.2,290.8 696.6,291.8 696.8,290.2 697.0,294.1 697.5,297.7 697.9,296.2 698.0,298.6 698.3,304.6 698.7,313.9 699.1,322.3 699.6,328.3 700.0,332.8 700.4,339.6 700.8,336.3 701.2,327.7 701.6,323.0 702.1,326.2 702.5,325.2 702.8,323.0 703.3,319.5 703.8,317.7 703.9,315.3 704.2,319.4 704.6,324.2 705.0,325.7 705.4,321.4 705.9,317.6 706.3,311.7 706.7,310.7 707.1,307.9 707.5,306.4 708.0,305.7 708.4,306.2 708.8,311.5 709.2,310.0 709.6,307.5 710.1,305.6 710.3,305.1 710.5,305.8 710.9,310.4 711.3,313.4 711.7,313.3 712.2,313.0 712.6,312.2 712.7,311.5 713.0,311.9 713.4,316.3 713.8,319.1 714.3,322.0 714.7,320.4 715.1,323.7 715.5,323.8 715.9,326.5 716.4,317.1 716.8,306.6 717.2,298.6 717.6,301.7 718.0,299.3 718.5,300.4 718.8,299.2 718.9,303.1 719.3,303.5 719.7,307.4 720.1,310.2 720.4,308.8 720.6,307.5 721.0,308.5 721.4,305.3 721.8,301.9 722.0,304.0 722.2,307.0 722.7,304.2 723.1,305.8 723.5,304.4 723.9,304.0 724.3,300.3 724.8,299.8 725.1,297.5 725.6,297.6 726.0,299.2 726.4,299.6 726.7,299.4 726.9,299.7 727.3,302.3 727.7,302.6 728.1,305.5 728.3,306.7 728.5,308.1 729.0,309.5 729.4,312.6 729.8,313.3 730.2,315.3 730.6,313.2 731.1,310.3 731.5,308.3 731.9,306.2 732.2,304.1 732.3,303.6 732.7,305.2 733.2,302.6 733.4,303.8 733.6,305.9 734.0,305.0 734.4,300.1 734.8,302.5 735.0,302.9 735.3,300.9 735.7,294.4 736.1,293.6 736.3,290.3 736.5,291.7 736.9,289.9 737.4,289.6 737.6,284.7 737.8,285.6 738.2,295.8 738.6,303.4 739.0,298.6 739.5,296.1 739.8,292.2 740.3,288.6 740.7,288.9 741.1,288.6 741.4,288.8 741.6,290.3 742.0,291.2 742.4,294.1 742.8,296.2 743.0,297.0 743.2,294.4 743.7,290.3 744.1,286.1 744.3,284.0 744.5,280.0 744.9,272.0 745.3,264.0 745.8,258.8 746.2,254.1 746.5,250.5 747.0,244.1 747.4,238.9 747.8,234.6 748.3,219.4 748.6,209.6 749.1,183.4 749.3,174.8 749.5,161.1 749.8,147.0 750.0,131.9 750.3,102.0 750.8,129.9 751.2,161.2 751.5,183.0 751.6,175.4 752.1,153.7 752.5,151.0 752.7,150.4 752.9,151.7 753.3,154.4 753.7,157.1 754.2,155.6 754.5,153.9 755.0,165.4 755.4,174.9 755.8,173.5 756.3,169.8 756.7,166.1 757.1,164.4 757.5,162.8 757.9,161.1 758.4,157.0 758.8,152.6 759.0,150.4 759.2,153.4 759.6,159.5 760.0,165.6 760.2,167.8 760.5,164.3 760.9,158.9 761.3,155.1 761.7,151.9 762.1,148.7 762.5,146.0 763.0,152.7 763.4,158.6 763.7,162.6 763.8,164.3 764.2,170.0 764.6,174.8 765.1,169.4 765.4,166.0 765.9,189.0 766.3,204.3 766.8,218.9 767.2,224.3 767.6,229.0 768.0,234.1 768.4,239.6 768.8,243.3 769.3,247.0 769.7,250.7 770.0,253.1 770.1,253.6 770.5,246.5 771.0,248.7 771.3,244.9 771.8,239.3 772.2,238.8 772.5,234.8 772.6,235.8 773.1,232.8 773.5,231.5 773.7,230.9 773.9,233.7 774.3,235.3 774.7,239.0 775.2,236.7 775.6,231.1 776.0,229.9 776.4,234.2 776.8,236.2 777.2,242.8 777.7,240.6 778.1,234.0 778.3,234.4 778.5,237.2 778.9,239.0 779.4,238.3 779.5,237.7 779.8,243.5 780.2,249.3 780.6,253.9 781.0,257.4 781.5,261.7 781.6,261.4 781.9,270.1 782.3,287.1 782.7,296.6 783.1,309.7 783.6,322.0 784.0,320.3 784.4,317.3 784.7,318.0 784.8,321.6 785.2,334.4 785.6,347.2 786.1,339.5 786.5,334.6 786.9,347.4 787.3,366.3 787.8,376.8 788.2,382.5 788.6,373.5 788.8,368.5 789.0,374.9 789.4,388.9 789.8,399.8 790.3,389.8 790.7,375.6 791.1,380.0 791.5,385.0 792.0,392.4 792.4,395.6 792.8,402.2 793.0,403.0 793.2,398.6 793.6,390.1 794.1,387.2 794.5,383.9 794.9,380.4 795.3,376.6 795.7,378.5 796.2,381.4 796.6,388.5 796.7,389.9 797.0,386.1 797.4,381.2 797.8,378.0 798.3,357.0 798.6,340.6 799.1,327.3 799.4,317.9 799.5,318.6 799.9,324.9 800.4,329.5 800.5,332.4 800.8,336.0 801.2,340.7 801.6,344.7 802.0,340.7 802.4,339.1 802.9,347.1 803.3,356.2 803.5,362.0 803.7,361.3 804.1,358.3 804.6,357.3 804.8,356.3 805.0,359.6 805.4,351.8 805.8,348.4 806.2,348.4 806.7,346.8 807.1,345.8 807.5,342.2 807.7,343.0 807.9,344.1 808.3,336.3 808.6,333.2 808.8,334.9 809.2,341.8 809.5,348.3 810.0,360.4 810.4,366.7 810.9,361.2 811.3,357.7 811.7,353.1 812.1,354.6 812.5,355.3 813.0,354.5 813.3,356.8 813.8,357.3 814.2,355.6 814.6,353.8 815.1,354.4 815.2,353.1 815.5,348.4 815.9,349.3 816.3,343.5 816.7,341.1 817.2,347.5 817.6,352.8 818.0,358.3 818.4,354.0 818.8,353.4 819.3,350.4 819.7,353.1 820.1,358.8 820.5,363.4 820.8,367.0 821.4,371.1 821.8,371.9 822.2,371.1 822.4,373.8 822.6,375.7 823.0,378.1 823.5,379.6 823.7,380.1 823.9,384.3 824.3,388.7 824.7,389.4 825.0,393.3 825.1,391.6 825.6,387.5 826.0,385.5 826.1,383.7 826.4,380.6 826.8,378.3 827.2,372.6 827.4,372.5 827.7,374.5 828.1,375.6 828.5,379.9 828.8,382.1 828.9,380.0 829.3,378.2 829.8,377.5 830.2,376.2 830.6,374.5 831.0,376.8 831.4,379.4 831.9,392.4 832.1,399.3 832.3,406.8 832.7,430.5 833.1,423.6 833.5,421.5 834.0,412.6 834.4,412.6 834.8,413.2 835.2,414.4 835.3,413.3 835.6,413.6 836.1,420.3 836.5,421.6 836.9,419.4 837.3,417.8 837.7,417.6 838.2,421.5 838.6,426.9 838.7,428.4 839.0,425.0 839.4,421.3 839.8,416.3 840.1,412.4 840.3,414.8 840.7,415.0 841.1,420.8 841.5,421.4 841.9,418.9 842.4,414.4 842.8,415.7 843.1,410.0 843.2,409.7 843.6,411.7 844.0,412.8 844.4,415.3 844.9,406.8 845.3,401.7 845.7,397.5 846.1,394.1 846.3,392.0 846.6,392.6 847.0,394.0 847.4,395.1 847.6,396.7 847.8,396.8 848.2,397.0 848.7,392.3 849.1,390.3 849.5,394.7 849.9,395.6 850.3,399.2 850.6,399.9 850.8,399.6 851.2,399.9 851.6,402.7 851.9,403.2 852.4,400.8 852.9,399.1 853.2,398.5 853.7,401.4 854.1,401.3 854.5,405.0 854.7,407.5 855.0,409.0 855.4,409.7 855.8,409.6 856.2,408.2 856.6,407.2 857.1,408.5 857.5,405.6 857.9,408.7 858.3,411.5 858.7,410.0 858.9,411.9 859.2,413.1 859.6,418.1 860.0,419.2 860.4,412.8 860.8,409.5 861.3,403.7 861.7,402.6 862.1,402.2 862.5,401.1 862.7,400.9 862.9,400.7 863.4,401.0 863.8,404.9 864.2,406.5 864.6,404.9 865.0,407.4 865.5,405.5 865.7,402.4 865.9,401.4 866.3,403.5 866.7,408.4 867.0,411.5 867.1,408.6 867.6,405.8 868.0,403.1 868.3,402.0 868.8,400.0 869.2,403.5 869.7,406.1 869.8,407.6 870.1,405.6 870.5,401.1 870.9,399.2 871.1,397.1 871.3,400.1 871.8,402.6 872.2,404.9 872.6,404.7 873.0,401.3 873.4,402.0 873.9,398.1 874.3,396.4 874.7,391.6 875.1,385.3 875.5,384.1 876.0,382.2 876.4,382.1 876.8,382.3 877.2,388.5 877.6,387.8 878.1,386.3 878.5,380.3 878.9,382.2 879.3,379.7 879.7,382.2 880.2,386.3 880.6,379.4 881.0,374.8 881.4,373.2 881.8,372.6 882.3,369.2 882.6,362.4 883.1,361.9 883.5,360.0 883.9,357.7 884.4,359.8 884.8,360.4 885.2,364.3 885.6,364.6 886.0,366.0 886.4,363.1 886.9,359.8 887.3,362.2 887.7,366.5 888.1,365.1 888.6,360.7 889.0,361.0 889.4,362.9 889.8,365.1 890.2,367.0 890.5,369.7 890.7,368.6 891.1,361.1 891.5,351.6 891.8,346.0 892.3,347.2 892.8,348.9 893.0,348.9 893.2,346.5 893.6,340.9 894.0,338.6 894.3,336.0 894.4,339.2 894.9,346.2 895.2,353.9 895.7,349.8 896.1,347.1 896.5,345.6 897.0,350.2 897.4,352.4 897.8,353.6 898.1,356.8 898.2,359.5 898.6,363.7 899.1,366.9 899.5,372.1 899.9,372.3 900.3,371.9 900.7,372.0 900.9,373.2 901.2,373.4 901.6,371.0 902.0,367.2 902.2,364.3 902.4,365.7 902.8,368.9 903.3,374.2 903.7,364.5 904.1,361.5 904.5,354.3 904.9,360.4 905.4,366.5 905.6,365.7 905.8,363.9 906.2,370.6 906.6,374.3 906.9,374.3 907.0,374.8 907.5,371.3 907.9,372.7 908.3,373.3 908.7,367.4 909.1,360.5 909.6,355.8 909.7,353.5 910.0,348.9 910.4,348.1 910.8,344.8 911.2,340.6 911.7,339.6 912.1,337.1 912.5,334.3 912.9,332.8 913.3,335.1 913.8,333.6 914.1,334.8 914.6,336.4 915.0,338.5 915.4,343.9 915.9,344.5 916.3,345.1 916.7,346.4 916.9,346.5 917.1,344.0 917.5,343.7 918.0,342.6 918.2,341.2 918.4,341.1 918.8,339.6 919.2,337.8 919.6,336.8 920.1,339.3 920.5,344.2 920.9,342.8 921.0,344.4 921.3,343.1 921.7,348.3 922.2,348.2 922.5,349.6 923.0,355.5 923.4,359.2 923.8,359.2 924.0,363.0 924.3,359.6 924.7,354.9 925.1,348.8 925.4,346.0 925.5,345.0 925.9,342.7 926.4,342.9 926.7,338.3 927.2,341.2 927.6,342.7 928.0,345.5 928.2,346.1 928.5,345.0 928.9,342.5 929.3,340.3 929.7,336.7 930.1,341.1 930.6,344.6 931.0,345.8 931.4,348.6 931.8,351.9 932.2,358.6 932.7,357.1 933.1,355.8 933.5,353.9 933.8,352.5 934.3,354.1 934.8,359.3 935.2,357.3 935.3,359.7 935.6,358.1 936.0,354.7 936.4,349.7 936.7,348.1 936.9,352.5 937.3,352.9 937.7,356.7 938.0,358.4 938.1,358.3 938.5,359.1 939.0,356.8 939.4,357.7 939.8,357.6 940.2,352.3 940.6,353.0 941.0,348.4 941.5,346.4 941.9,343.6 942.3,343.6 942.7,341.1 943.2,343.8 943.6,344.8 944.0,349.9 944.2,347.6 944.4,351.0 944.8,353.9 945.3,356.7 945.7,357.2 946.1,362.0 946.5,351.1 946.9,339.0 947.4,334.7 947.8,331.5 948.2,329.8 948.5,326.0 949.0,324.5 949.5,322.4 949.8,317.5 950.3,312.5 950.7,313.3 951.1,311.7 951.6,313.4 952.0,312.0 952.4,310.5 952.6,308.9 952.8,312.0 953.2,314.8 953.7,316.8 953.8,319.2 954.1,319.6 954.5,316.0 954.9,311.4 955.2,311.2 955.3,309.9 955.8,309.8 956.2,313.7 956.6,313.9 957.0,318.4 957.4,320.2 957.8,320.5 958.3,317.6 958.7,315.9 959.0,311.3 959.5,310.8 960.0,312.1 960.4,313.0 960.8,311.2 961.2,309.3 961.6,310.2 961.8,311.1 962.1,307.2 962.5,304.7 962.9,301.7 963.0,301.7 963.3,294.8 963.7,287.3 964.2,281.7 964.6,279.7 965.0,279.3 965.4,280.3 965.7,277.9 965.8,278.7 966.3,278.2 966.7,280.0 967.0,280.5 967.5,276.0 967.9,273.2 968.3,270.4 968.8,269.2 969.2,268.3 969.5,264.0 969.6,267.1 970.0,264.4 970.5,267.9 970.9,270.5 971.3,278.7 971.7,288.4 972.1,296.0 972.6,297.6 973.0,291.8 973.4,293.0 973.8,293.2 974.2,296.9 974.7,300.3 974.9,301.1 975.1,299.8 975.5,298.1 975.9,295.6 976.1,297.8 976.3,293.9 976.8,285.5 977.2,278.3 977.5,274.9 977.6,277.8 978.0,279.3 978.4,280.5 978.7,277.5 978.9,276.0 979.3,275.7 979.7,271.6 979.9,270.5 980.1,264.3 980.5,258.3 981.0,252.7 981.4,256.3 981.8,260.0 982.2,261.6 982.6,274.4 983.0,280.6 983.5,287.6 983.9,299.9 984.3,307.2 984.7,303.9 985.2,299.4 985.6,294.8 986.0,290.0 986.4,286.8 986.8,283.0 987.3,291.8 987.7,301.7 987.9,307.9 988.1,310.1 988.5,318.0 988.9,325.6 989.1,327.6 989.4,322.0 989.8,313.0 990.2,303.4 990.3,299.8 990.6,301.3 991.0,296.8 991.5,291.9 991.7,292.4 991.9,291.9 992.3,289.3 992.7,289.3 993.1,286.9 993.6,292.3 994.0,299.4 994.3,302.9 994.8,306.2 995.2,311.9 995.6,316.6 996.1,319.5 996.5,322.3 996.9,329.1 997.3,329.5 997.8,329.9 998.2,334.3 998.3,338.9 998.6,335.8 999.0,333.3 999.4,326.5 999.9,324.1 1000.3,323.0 1000.7,317.1 1001.1,324.0 1001.5,330.4 1001.8,334.7 1002.0,335.7 1002.4,330.6 1002.8,327.5 1003.0,327.0 1003.2,329.7 1003.6,332.4 1004.1,341.3 1004.3,343.4 1004.5,343.6 1004.9,346.7 1005.3,347.6 1005.7,351.2 1006.2,352.7 1006.6,355.3 1007.0,355.4 1007.4,353.6 1007.8,352.4 1008.3,348.4 1008.7,352.0 1009.1,356.5 1009.5,361.6 1009.9,362.1 1010.4,362.7 1010.8,362.4 1011.2,361.9 1011.6,361.5 1012.0,358.1 1012.3,357.2 1012.5,355.8 1012.9,348.6 1013.3,346.7 1013.5,346.7 1013.7,346.1 1014.1,342.6 1014.6,341.9 1014.7,339.4 1015.0,337.9 1015.4,338.4 1015.8,332.3 1016.1,331.6 1016.2,332.3 1016.7,333.4 1017.1,333.9 1017.5,336.4 1017.9,331.1 1018.3,327.1 1018.7,327.1 1019.2,332.1 1019.6,339.6 1020.0,345.4 1020.4,335.0 1020.9,323.4 1021.3,320.0 1021.7,319.1 1022.1,315.9 1022.5,313.0 1023.0,308.1 1023.4,306.0 1023.8,303.2 1024.2,304.5 1024.6,303.8 1024.8,307.1 1025.1,309.1 1025.5,310.0 1025.9,314.4 1026.3,307.2 1026.7,295.4 1027.0,286.4 1027.2,291.6 1027.6,293.6 1028.0,291.8 1028.3,295.7 1028.4,293.6 1028.8,282.7 1029.3,275.6 1029.5,268.1 1029.7,273.0 1030.1,281.3 1030.5,289.7 1030.9,288.8 1031.4,287.8 1031.7,287.7 1032.2,291.9 1032.6,299.8 1033.0,303.2 1033.5,308.1 1033.9,311.0 1034.3,313.9 1034.7,319.2 1035.1,323.5 1035.6,328.9 1036.0,332.5 1036.4,333.7 1036.8,338.3 1037.0,339.3 1037.2,340.4 1037.7,343.3 1038.1,348.8 1038.3,350.5 1038.5,347.8 1038.9,346.4 1039.3,344.3 1039.6,342.7 1039.8,339.9 1040.2,338.5 1040.6,339.7 1040.8,336.6 1041.0,337.7 1041.4,343.7 1041.9,344.0 1042.2,343.6 1042.7,338.1 1043.1,338.5 1043.4,335.3 1043.5,338.9 1044.0,344.1 1044.4,348.6 1044.8,342.3 1045.2,328.1 1045.6,316.0 1046.1,318.1 1046.5,318.0 1046.9,320.7 1047.0,321.1 1047.3,320.6 1047.7,317.0 1048.2,312.3 1048.6,316.8 1049.0,319.2 1049.4,322.0 1049.8,322.0 1050.3,324.8 1050.7,324.1 1050.9,326.9 1051.1,324.5 1051.5,323.8 1051.9,321.7 1052.3,320.9 1052.8,326.9 1053.2,330.8 1053.5,333.6 1053.6,330.0 1054.0,324.7 1054.5,324.9 1054.7,322.8 1054.9,317.3 1055.3,316.5 1055.7,308.9 1056.1,305.5 1056.6,309.6 1057.0,312.4 1057.3,315.5 1057.8,311.5 1058.2,311.7 1058.7,310.8 1059.1,315.6 1059.5,320.0 1059.9,324.0 1060.3,320.5 1060.8,319.6 1061.2,314.5 1061.6,320.5 1062.0,328.8 1062.4,336.0 1062.7,341.2 1062.9,342.8 1063.3,344.3 1063.7,348.2 1063.9,352.2 1064.1,346.0 1064.5,341.3 1065.0,336.1 1065.1,338.0 1065.4,335.7 1065.8,339.2 1066.2,343.6 1066.5,343.2 1066.6,341.4 1067.1,333.5 1067.5,325.0 1067.9,319.3 1068.3,318.6 1068.7,315.7 1069.2,314.3 1069.5,313.9 1070.0,319.4 1070.4,319.8 1070.8,325.2 1071.3,330.0 1071.7,333.7 1072.1,340.6 1072.5,339.7 1072.9,336.6 1073.4,331.3 1073.8,336.6 1074.2,339.5 1074.6,342.1 1074.9,343.3 1075.0,340.7 1075.5,330.9 1075.9,323.8 1076.1,318.9 1076.3,319.5 1076.7,319.1 1077.1,317.9 1077.6,321.2 1077.8,320.3 1078.0,322.4 1078.4,326.4 1078.8,329.0 1079.0,333.0 1079.2,328.4 1079.7,328.1 1080.1,322.5 1080.4,321.0 1080.9,326.9 1081.3,328.1 1081.7,330.6 1082.2,322.3 1082.6,313.5 1083.0,304.6 1083.4,301.8 1083.9,301.7 1084.3,305.2 1084.7,310.3 1085.1,310.5 1085.5,312.3 1086.0,312.3 1086.4,310.1 1086.8,307.3 1087.2,304.1 1087.6,300.0 1088.1,302.8 1088.3,300.5 1088.5,301.3 1088.9,295.5 1089.3,295.9 1089.5,294.9 1089.7,295.7 1090.2,301.6 1090.6,305.9 1090.9,305.5 1091.0,305.6 1091.4,300.4 1091.8,297.3 1092.3,294.9 1092.7,294.9 1093.1,296.2 1093.5,293.9 1093.9,303.8 1094.4,311.1 1094.7,314.6 1095.2,315.4 1095.6,315.4 1096.0,320.4 1096.5,323.2 1096.9,327.1 1097.3,328.7 1097.7,325.1 1098.1,320.6 1098.6,316.0 1098.7,315.0 1099.0,311.8 1099.4,307.9 1099.8,300.9 1100.2,304.7 1100.7,308.7 1101.1,311.9 1101.3,313.0 1101.5,316.4 1101.9,315.8 1102.3,314.6 1102.7,315.4 1103.2,311.6 1103.6,307.5 1103.9,303.7 1104.4,303.3 1104.9,301.6 1105.1,300.2 1105.3,300.6 1105.7,294.1 1106.1,290.1 1106.5,288.4 1107.0,291.4 1107.4,292.9 1107.8,294.6 1108.2,290.4 1108.6,292.6 1109.1,292.8 1109.5,289.3 1109.9,282.9 1110.3,279.6 1110.7,283.3 1111.2,287.2 1111.6,288.4 1111.7,286.7 1112.0,286.9 1112.4,286.5 1112.8,284.7 1113.3,288.9 1113.7,290.1 1114.1,291.8 1114.3,294.2 1114.5,292.2 1114.9,281.4 1115.2,274.6 1115.4,276.5 1115.8,284.3 1116.2,288.4 1116.4,289.8 1116.6,292.8 1117.0,296.1 1117.5,296.8 1117.8,301.5 1118.3,295.8 1118.7,287.5 1119.0,284.3 1119.6,282.8 1120.0,280.5 1120.4,276.3 1120.8,276.8 1121.2,280.4 1121.7,280.0 1121.8,283.4 1122.1,284.8 1122.5,287.1 1122.9,288.6 1123.3,292.3 1123.8,289.9 1124.2,292.5 1124.4,296.0 1124.6,296.1 1125.0,302.4 1125.4,305.3 1125.7,305.0 1125.9,305.1 1126.3,299.8 1126.7,296.2 1126.9,293.1 1127.1,290.1 1127.5,287.8 1127.9,283.7 1128.3,282.7 1128.4,288.0 1128.7,304.2 1129.2,303.5 1129.5,298.9 1129.6,304.6 1130.1,311.3 1130.5,314.5 1130.9,319.8 1131.3,323.7 1131.7,323.3 1132.2,320.9 1132.6,318.6 1133.0,317.4 1133.4,310.8 1133.8,308.4 1134.0,306.0 1134.3,307.2 1134.4,308.7 1134.7,306.6 1135.1,302.6 1135.5,307.7 1135.7,309.1 1135.9,308.8 1136.4,303.5 1136.8,301.4 1137.2,306.5 1137.6,309.9 1138.0,311.8 1138.3,311.7 1138.5,314.2 1138.9,318.7 1139.3,323.6 1139.7,324.7 1140.1,331.4 1140.6,341.9 1140.9,346.4 1141.4,349.9 1141.8,352.0 1142.2,357.7 1142.7,363.3 1143.1,367.2 1143.5,371.4 1143.9,374.5 1144.3,369.6 1144.8,359.1 1145.2,353.5 1145.6,349.2 1146.0,344.8 1146.4,350.6 1146.9,349.4 1147.3,354.0 1147.5,354.4 1147.7,351.0 1148.1,348.0 1148.5,341.3 1148.7,341.1 1149.0,347.8 1149.4,349.4 1149.8,353.5 1150.2,349.2 1150.6,345.7 1151.1,338.3 1151.3,337.2 1151.5,338.8 1151.9,345.4 1152.3,346.4 1152.7,348.2 1153.2,350.7 1153.6,352.3 1154.0,357.4 1154.3,360.6 1154.4,356.5 1154.8,353.0 1155.3,347.4 1155.7,344.0 1156.1,337.2 1156.5,327.9 1156.9,322.8 1157.4,321.7 1157.8,315.1 1158.2,313.7 1158.6,306.4 1159.0,303.6 1159.5,303.0 1159.9,304.4 1160.3,299.4 1160.7,289.5 1161.1,292.1 1161.6,288.4 1161.8,288.5 1162.0,287.7 1162.4,287.6 1162.8,289.0 1163.0,294.3 1163.2,294.5 1163.7,293.9 1164.1,296.7 1164.3,299.3 1164.5,300.7 1164.9,302.9 1165.3,305.5 1165.7,306.4 1166.1,316.4 1166.6,313.8 1167.0,312.6 1167.3,307.0 1167.4,306.6 1167.9,302.7 1168.3,301.2 1168.7,297.1 1169.1,293.4 1169.5,289.7 1170.0,298.5 1170.4,303.4 1170.8,299.1 1171.2,307.0 1171.6,320.8 1172.1,310.8 1172.5,317.1 1172.9,323.3 1173.0,326.1 1173.3,320.9 1173.7,313.9 1174.2,308.2 1174.6,313.4 1175.0,320.9 1175.3,326.6 1175.4,324.0 1175.8,321.3 1176.3,318.2 1176.5,316.6 1176.7,311.5 1177.0,308.2 1177.1,311.8 1177.5,309.0 1177.7,308.4 1177.9,307.8 1178.2,305.7 1178.4,307.8 1178.8,314.2 1179.1,316.6 1179.6,328.1 1180.0,330.9 1180.5,335.8 1180.9,335.6 1181.3,331.4 1181.7,331.2 1182.1,326.5 1182.6,324.2 1183.0,319.0 1183.4,318.5 1183.8,316.6 1184.2,314.8 1184.7,306.2 1185.1,304.8 1185.2,303.9 1185.5,305.6 1185.7,304.3 1185.9,308.4 1186.3,312.0 1186.6,316.4 1186.8,314.8 1187.2,312.1 1187.6,310.1 1187.8,312.3 1188.0,306.8 1188.3,303.6 1188.4,306.8 1188.9,305.5 1189.2,305.9 1189.7,303.7 1190.1,307.0 1190.4,303.3 1190.9,294.6 1191.4,304.7 1191.7,310.6 1191.8,309.7 1192.1,304.4 1192.2,306.2 1192.6,308.6 1193.0,303.3 1193.5,310.0 1193.9,312.9 1194.3,313.9 1194.7,299.1 1195.2,290.2 1195.6,289.8 1196.0,294.8 1196.4,284.2 1196.6,281.9 1196.8,279.7 1197.3,285.9 1197.7,291.8 1197.8,293.6 1198.1,291.3 1198.5,290.0 1198.9,284.7 1199.4,288.2 1199.8,293.1 1200.2,294.8 1200.4,297.7 1200.6,300.6 1201.0,295.1 1201.5,291.4 1201.8,287.0 1202.3,289.3 1202.7,289.5 1203.0,291.0 1203.6,291.0 1204.0,287.9 1204.4,286.1 1204.8,287.8 1205.2,286.0 1205.7,284.6 1206.1,286.9 1206.5,286.5 1206.9,287.7 1207.3,283.0 1207.8,282.5 1208.2,278.3 1208.6,280.7 1209.0,283.2 1209.4,289.1 1209.9,291.0 1210.3,291.4 1210.7,289.8 1210.9,290.6 1211.1,289.5 1211.5,284.4 1212.0,281.7 1212.3,280.1 1212.4,278.9 1212.8,283.0 1213.2,286.4 1213.5,291.0 1213.6,289.9 1214.1,288.4 1214.5,281.3 1214.9,275.4 1215.3,279.6 1215.7,281.6 1216.1,283.9 1216.6,287.7 1217.0,287.8 1217.4,290.5 1217.8,288.3 1218.3,293.4 1218.7,294.7 1219.1,289.2 1219.5,284.0 1219.9,281.9 1220.1,278.3 1220.4,281.3 1220.8,281.2 1221.2,283.2 1221.6,277.1 1222.0,270.4 1222.2,265.7 1222.5,256.2 1222.9,243.2 1223.0,238.0 1223.3,233.7 1223.7,231.1 1224.1,225.5 1224.6,217.8 1225.0,214.4 1225.3,209.9 1225.8,216.6 1226.2,220.3 1226.5,221.5 1226.7,217.8 1227.1,213.4 1227.5,207.5 1227.9,200.2 1228.3,210.5 1228.8,216.9 1229.1,225.0 1229.6,219.0 1230.0,215.7 1230.4,217.2 1230.9,214.4 1231.3,214.3 1231.7,216.4 1232.1,220.2 1232.5,226.9 1233.0,234.6 1233.4,244.1 1233.8,242.3 1234.2,235.4 1234.6,228.1 1234.9,229.1 1235.1,227.6 1235.5,225.6 1235.9,224.2 1236.1,224.9 1236.3,226.1 1236.7,227.2 1237.2,230.8 1237.3,227.0 1237.6,226.0 1238.0,222.2 1238.3,220.1 1238.8,234.2 1239.2,244.3 1239.7,253.3 1240.1,265.8 1240.5,260.5 1240.9,259.5 1241.3,256.1 1241.8,264.8 1242.2,271.2 1242.5,274.8 1243.0,271.2 1243.5,265.4 1243.9,267.6 1244.3,273.8 1244.7,281.4 1245.1,276.5 1245.6,272.4 1246.0,272.1 1246.4,275.2 1246.8,279.5 1247.0,280.5 1247.2,280.8 1247.7,280.2 1248.1,277.6 1248.3,277.8 1248.5,281.9 1248.9,290.4 1249.1,294.0 1249.3,298.9 1249.6,306.4 1249.8,307.6 1250.2,304.8 1250.5,301.2 1251.0,302.0 1251.3,301.5 1251.4,304.6 1251.7,301.4 1251.9,296.7 1252.3,293.2 1252.7,291.7 1253.0,286.0 1253.1,284.1 1253.5,280.1 1254.0,275.2 1254.4,277.4 1254.8,281.9 1255.2,283.4 1255.6,288.4 1256.1,292.8 1256.4,296.9 1256.9,295.3 1257.3,294.1 1257.7,292.2 1258.2,288.2 1258.6,285.1 1259.0,288.2 1259.4,292.7 1259.8,293.9 1260.3,295.3 1260.7,296.0 1261.1,294.2 1261.3,294.7 1261.5,296.9 1261.9,303.2 1262.3,304.9 1262.7,299.4 1263.2,300.3 1263.5,300.5 1263.6,298.7 1263.9,296.3 1264.0,297.5 1264.5,299.2 1264.9,302.6 1265.1,302.5 1265.3,298.0 1265.7,290.1 1266.0,288.2 1266.1,290.9 1266.6,297.5 1267.0,303.5 1267.4,308.1 1267.8,309.6 1268.2,312.4 1268.7,321.3 1269.1,324.8 1269.2,324.1 1269.5,322.5 1269.9,325.4 1270.3,328.3 1270.8,334.0 1271.2,340.5 1271.6,346.0 1272.0,348.9 1272.4,346.6 1272.9,347.6 1273.0,347.6 1273.3,340.7 1273.7,325.3 1273.9,318.5 1274.1,316.3 1274.5,318.7 1275.0,312.9 1275.1,308.7 1275.4,308.8 1275.6,308.3 1275.8,310.8 1276.2,313.4 1276.5,313.9 1276.6,315.0 1277.1,321.2 1277.4,329.8 1277.9,327.8 1278.3,320.0 1278.6,321.6 1278.7,322.8 1279.2,327.3 1279.6,334.7 1280.0,335.5 1280.4,340.3 1280.8,350.9 1281.0,350.6 1281.3,344.6 1281.7,336.8 1282.1,325.0 1282.3,321.6 1282.5,326.1 1282.9,334.1 1283.4,336.5 1283.8,342.6 1284.2,350.4 1284.6,356.4 1285.0,363.8 1285.5,371.5 1285.7,376.5 1285.9,377.6 1286.3,380.6 1286.7,383.6 1287.0,385.2 1287.1,387.9 1287.6,393.8 1287.8,397.4 1288.0,398.3 1288.4,400.7 1288.8,403.1 1289.0,404.3 1289.2,407.1 1289.7,412.7 1290.1,418.3 1290.5,425.4 1290.9,432.0 1291.3,437.9 1291.8,443.5 1292.2,449.0 1292.6,455.9 1292.8,459.0 1293.0,457.6 1293.4,455.1 1293.9,452.5 1294.0,451.7 1294.3,452.7 1294.7,454.2 1295.1,455.7 1295.5,465.4 1295.9,475.0 1296.4,479.1 1296.8,482.7 1297.1,485.2 1297.2,487.2 1297.6,493.6 1298.1,498.1 1298.5,502.4 1298.9,498.6 1299.2,494.0 1299.3,503.2 1299.5,515.7 1299.7,526.2" fill="none" stroke="#f5881a" stroke-width="2.25" stroke-linejoin="round" stroke-linecap="round"/>
<g style="opacity:0.999">
<rect x="724.5" y="68.5" width="52" height="27" rx="3.5" fill="#fff" stroke="#f4830c" stroke-opacity="0.7"/>
<text x="750.5" y="89.3" font-size="13.8" text-anchor="middle" fill="#1a1a1a" stroke="#1a1a1a" stroke-width="0.42">123.49</text>
<rect x="725.5" y="100.5" width="51" height="44" rx="3.5" fill="#fff" stroke="#15709f" stroke-opacity="0.8"/>
<text x="750.5" y="120.1" font-size="13.8" text-anchor="middle" fill="#1a1a1a" stroke="#1a1a1a" stroke-width="0.42">114.4</text>
<text x="750.5" y="137.6" font-size="13.8" text-anchor="middle" fill="#1a1a1a" stroke="#1a1a1a" stroke-width="0.42">8</text>
<path d="M1323.0,514.5 H1360.0 Q1363.5,514.5 1363.5,518.0 V537.0 Q1363.5,540.5 1360.0,540.5 H1323.0 Q1319.5,540.5 1319.5,537.0 V532 L1299.5,528 L1319.5,523 V518.0 Q1319.5,514.5 1323.0,514.5 Z" fill="#fff" stroke="#f4830c" stroke-width="1" stroke-linejoin="round"/>
<text x="1341.5" y="534.0" font-size="13.8" text-anchor="middle" fill="#1a1a1a" stroke="#1a1a1a" stroke-width="0.42">45.39</text>
<path d="M1323.0,542.5 H1360.0 Q1363.5,542.5 1363.5,546.0 V565.0 Q1363.5,568.5 1360.0,568.5 H1323.0 Q1319.5,568.5 1319.5,565.0 V560 L1300,554.5 L1319.5,550.5 V546.0 Q1319.5,542.5 1323.0,542.5 Z" fill="#fff" stroke="#15709f" stroke-width="1" stroke-linejoin="round"/>
<text x="1341.5" y="562.0" font-size="13.8" text-anchor="middle" fill="#1a1a1a" stroke="#1a1a1a" stroke-width="0.42">40.66</text>
<line x1="378" x2="401" y1="671" y2="671" stroke="#15709f" stroke-width="2.5" stroke-linecap="round"/>
<text x="407" y="675.4" font-size="14" fill="#111" stroke="#111" stroke-width="0.4">沪金指数:收盘价:乘1000:与沪银指数:收盘价:比值</text>
<line x1="725" x2="748" y1="671" y2="671" stroke="#f4830c" stroke-width="2.5" stroke-linecap="round"/>
<text x="754" y="675.4" font-size="14" fill="#111" stroke="#111" stroke-width="0.4">现货价(伦敦市场):黄金:与白银:美元:比值</text>
<text x="1247.5" y="702.4" font-size="15.6" font-weight="bold" fill="#cc0000">数据来源：Wind</text>
</g>
</svg>
</body></html>
